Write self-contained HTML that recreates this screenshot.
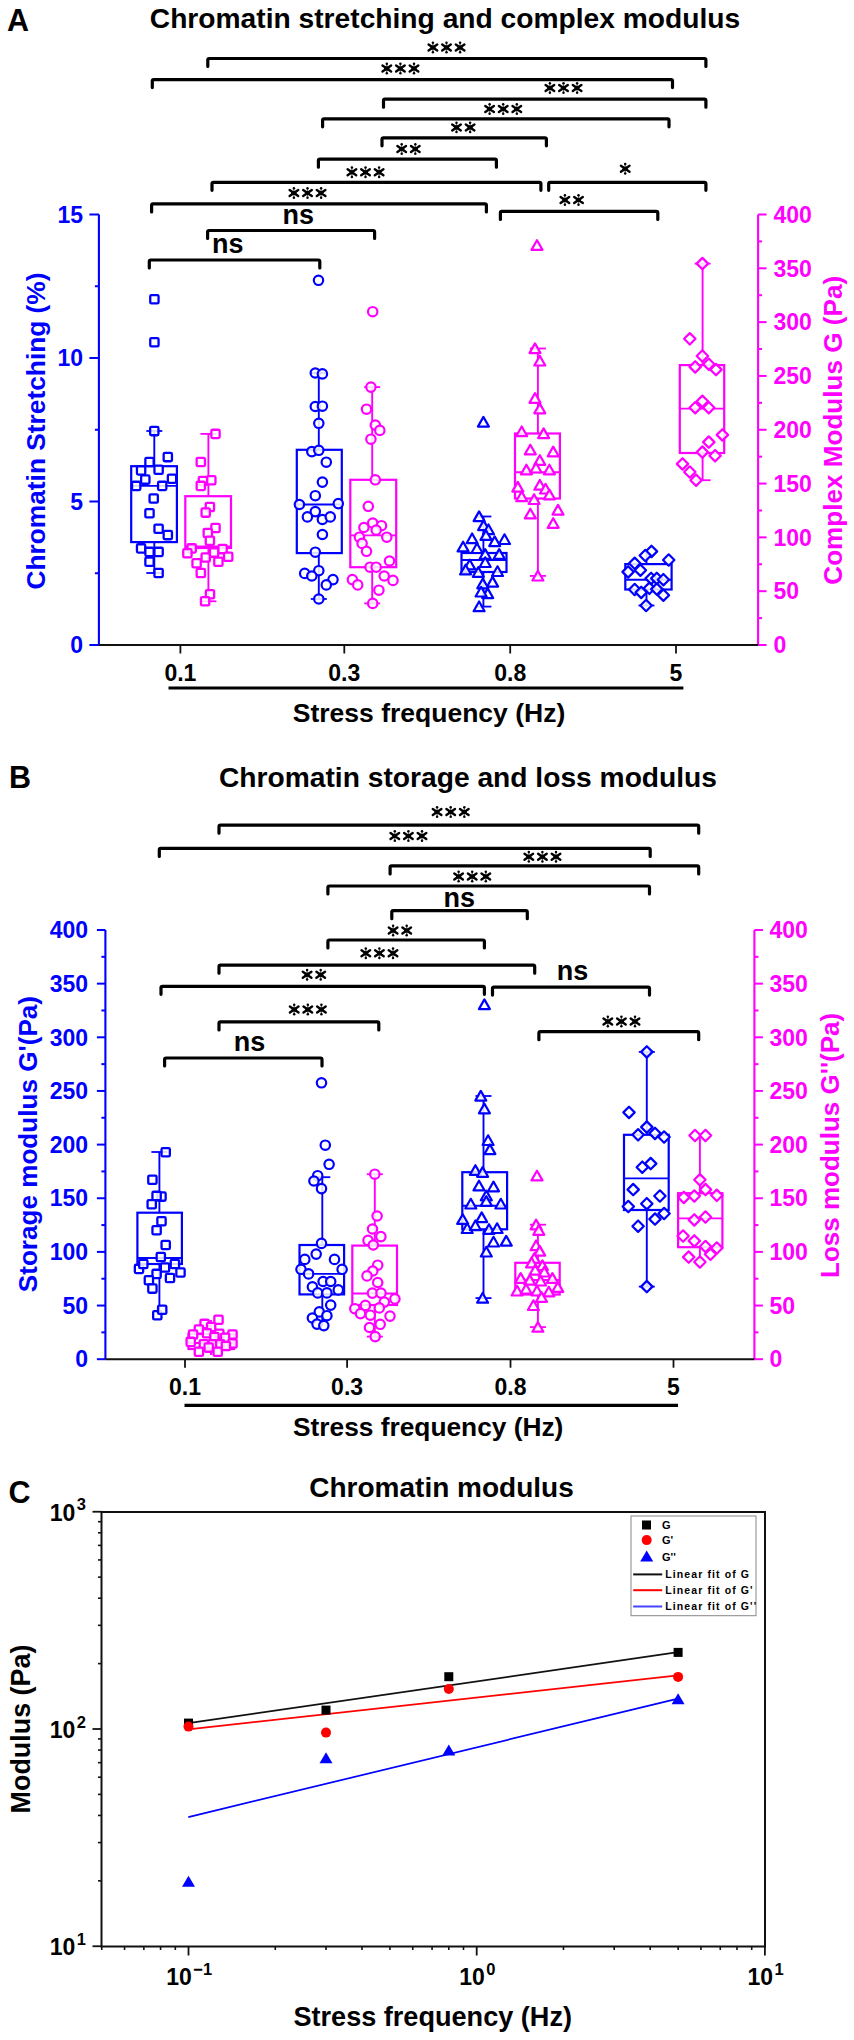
<!DOCTYPE html><html><head><meta charset="utf-8"><style>html,body{margin:0;padding:0;background:#fff;}svg{display:block;}</style></head><body><svg width="854" height="2040" viewBox="0 0 854 2040" font-family="'Liberation Sans', sans-serif" font-weight="bold">
<defs><g id="ast"><path d="M-4.3,-3 L4.3,3 M4.3,-3 L-4.3,3" stroke="#000" stroke-width="2.4" stroke-linecap="round"/><path d="M0,-4.6 L0,4.6" stroke="#000" stroke-opacity="0.6" stroke-width="1.3"/><circle cx="0" cy="-4.7" r="1.25" fill="#000"/><circle cx="0" cy="4.7" r="1.25" fill="#000"/><rect x="-2.6" y="-2" width="5.2" height="4" fill="#000"/></g></defs>
<rect width="854" height="2040" fill="#fff"/>
<text x="7" y="31" font-size="30.5" fill="#000" text-anchor="start" >A</text>
<text x="445" y="27.6" font-size="28.2" fill="#000" text-anchor="middle" >Chromatin stretching and complex modulus</text>
<path d="M207.8,66.5 L207.8,60.0 Q207.8,58.5 209.3,58.5 L704.4,58.5 Q705.9,58.5 705.9,60.0 L705.9,66.5" fill="none" stroke="#000" stroke-width="3.2" stroke-linecap="round" stroke-linejoin="round"/>
<use href="#ast" x="432.9" y="47.5"/>
<use href="#ast" x="446.5" y="47.5"/>
<use href="#ast" x="460.1" y="47.5"/>
<path d="M152.3,87.6 L152.3,81.1 Q152.3,79.6 153.8,79.6 L671.0,79.6 Q672.5,79.6 672.5,81.1 L672.5,87.6" fill="none" stroke="#000" stroke-width="3.2" stroke-linecap="round" stroke-linejoin="round"/>
<use href="#ast" x="386.8" y="68.5"/>
<use href="#ast" x="400.4" y="68.5"/>
<use href="#ast" x="414.0" y="68.5"/>
<path d="M383.5,107.2 L383.5,100.7 Q383.5,99.2 385.0,99.2 L704.4,99.2 Q705.9,99.2 705.9,100.7 L705.9,107.2" fill="none" stroke="#000" stroke-width="3.2" stroke-linecap="round" stroke-linejoin="round"/>
<use href="#ast" x="549.9" y="88"/>
<use href="#ast" x="563.5" y="88"/>
<use href="#ast" x="577.1" y="88"/>
<path d="M322.6,126.8 L322.6,120.3 Q322.6,118.8 324.1,118.8 L667.5,118.8 Q669,118.8 669,120.3 L669,126.8" fill="none" stroke="#000" stroke-width="3.2" stroke-linecap="round" stroke-linejoin="round"/>
<use href="#ast" x="489.6" y="109"/>
<use href="#ast" x="503.2" y="109"/>
<use href="#ast" x="516.8" y="109"/>
<path d="M382,145.8 L382,139.3 Q382,137.8 383.5,137.8 L544.9,137.8 Q546.4,137.8 546.4,139.3 L546.4,145.8" fill="none" stroke="#000" stroke-width="3.2" stroke-linecap="round" stroke-linejoin="round"/>
<use href="#ast" x="456.5" y="127.4"/>
<use href="#ast" x="470.1" y="127.4"/>
<path d="M318.4,167.2 L318.4,160.7 Q318.4,159.2 319.9,159.2 L494.9,159.2 Q496.4,159.2 496.4,160.7 L496.4,167.2" fill="none" stroke="#000" stroke-width="3.2" stroke-linecap="round" stroke-linejoin="round"/>
<use href="#ast" x="401.7" y="149"/>
<use href="#ast" x="415.3" y="149"/>
<path d="M212,190.3 L212,183.8 Q212,182.3 213.5,182.3 L539.4,182.3 Q540.9,182.3 540.9,183.8 L540.9,190.3" fill="none" stroke="#000" stroke-width="3.2" stroke-linecap="round" stroke-linejoin="round"/>
<use href="#ast" x="351.9" y="172.3"/>
<use href="#ast" x="365.5" y="172.3"/>
<use href="#ast" x="379.1" y="172.3"/>
<path d="M548.7,190.3 L548.7,183.8 Q548.7,182.3 550.2,182.3 L704.4,182.3 Q705.9,182.3 705.9,183.8 L705.9,190.3" fill="none" stroke="#000" stroke-width="3.2" stroke-linecap="round" stroke-linejoin="round"/>
<use href="#ast" x="625.2" y="168.8"/>
<path d="M151.6,211.9 L151.6,205.4 Q151.6,203.9 153.1,203.9 L484.9,203.9 Q486.4,203.9 486.4,205.4 L486.4,211.9" fill="none" stroke="#000" stroke-width="3.2" stroke-linecap="round" stroke-linejoin="round"/>
<use href="#ast" x="293.9" y="193"/>
<use href="#ast" x="307.5" y="193"/>
<use href="#ast" x="321.1" y="193"/>
<path d="M500.4,219.4 L500.4,212.9 Q500.4,211.4 501.9,211.4 L656.3,211.4 Q657.8,211.4 657.8,212.9 L657.8,219.4" fill="none" stroke="#000" stroke-width="3.2" stroke-linecap="round" stroke-linejoin="round"/>
<use href="#ast" x="564.9" y="200"/>
<use href="#ast" x="578.5" y="200"/>
<path d="M207.6,238.5 L207.6,232.0 Q207.6,230.5 209.1,230.5 L373.1,230.5 Q374.6,230.5 374.6,232.0 L374.6,238.5" fill="none" stroke="#000" stroke-width="3.2" stroke-linecap="round" stroke-linejoin="round"/>
<text x="298.2" y="224" font-size="27" fill="#000" text-anchor="middle" >ns</text>
<path d="M149.3,268 L149.3,261.5 Q149.3,260 150.8,260 L318.3,260 Q319.8,260 319.8,261.5 L319.8,268" fill="none" stroke="#000" stroke-width="3.2" stroke-linecap="round" stroke-linejoin="round"/>
<text x="227.8" y="253.3" font-size="27" fill="#000" text-anchor="middle" >ns</text>
<line x1="98.9" y1="214.5" x2="98.9" y2="645" stroke="#0000ff" stroke-width="2.1" />
<line x1="89.4" y1="214.5" x2="98.9" y2="214.5" stroke="#0000ff" stroke-width="2" />
<text x="83" y="222.7" font-size="23" fill="#0000ff" text-anchor="end" >15</text>
<line x1="94.9" y1="286.25" x2="98.9" y2="286.25" stroke="#0000ff" stroke-width="2" />
<line x1="89.4" y1="358.0" x2="98.9" y2="358.0" stroke="#0000ff" stroke-width="2" />
<text x="83" y="366.2" font-size="23" fill="#0000ff" text-anchor="end" >10</text>
<line x1="94.9" y1="429.75" x2="98.9" y2="429.75" stroke="#0000ff" stroke-width="2" />
<line x1="89.4" y1="501.5" x2="98.9" y2="501.5" stroke="#0000ff" stroke-width="2" />
<text x="83" y="509.7" font-size="23" fill="#0000ff" text-anchor="end" >5</text>
<line x1="94.9" y1="573.25" x2="98.9" y2="573.25" stroke="#0000ff" stroke-width="2" />
<line x1="89.4" y1="645.0" x2="98.9" y2="645.0" stroke="#0000ff" stroke-width="2" />
<text x="83" y="653.2" font-size="23" fill="#0000ff" text-anchor="end" >0</text>
<line x1="758.1" y1="214.5" x2="758.1" y2="645" stroke="#ff00ff" stroke-width="2.1" />
<line x1="758.1" y1="645.0" x2="766.6" y2="645.0" stroke="#ff00ff" stroke-width="2" />
<text x="773.5" y="653.2" font-size="23" fill="#ff00ff" text-anchor="start" >0</text>
<line x1="758.1" y1="618.09375" x2="762.1" y2="618.09375" stroke="#ff00ff" stroke-width="2" />
<line x1="758.1" y1="591.1875" x2="766.6" y2="591.1875" stroke="#ff00ff" stroke-width="2" />
<text x="773.5" y="599.3875" font-size="23" fill="#ff00ff" text-anchor="start" >50</text>
<line x1="758.1" y1="564.28125" x2="762.1" y2="564.28125" stroke="#ff00ff" stroke-width="2" />
<line x1="758.1" y1="537.375" x2="766.6" y2="537.375" stroke="#ff00ff" stroke-width="2" />
<text x="773.5" y="545.575" font-size="23" fill="#ff00ff" text-anchor="start" >100</text>
<line x1="758.1" y1="510.46875" x2="762.1" y2="510.46875" stroke="#ff00ff" stroke-width="2" />
<line x1="758.1" y1="483.5625" x2="766.6" y2="483.5625" stroke="#ff00ff" stroke-width="2" />
<text x="773.5" y="491.7625" font-size="23" fill="#ff00ff" text-anchor="start" >150</text>
<line x1="758.1" y1="456.65625" x2="762.1" y2="456.65625" stroke="#ff00ff" stroke-width="2" />
<line x1="758.1" y1="429.75" x2="766.6" y2="429.75" stroke="#ff00ff" stroke-width="2" />
<text x="773.5" y="437.95" font-size="23" fill="#ff00ff" text-anchor="start" >200</text>
<line x1="758.1" y1="402.84375" x2="762.1" y2="402.84375" stroke="#ff00ff" stroke-width="2" />
<line x1="758.1" y1="375.9375" x2="766.6" y2="375.9375" stroke="#ff00ff" stroke-width="2" />
<text x="773.5" y="384.1375" font-size="23" fill="#ff00ff" text-anchor="start" >250</text>
<line x1="758.1" y1="349.03125" x2="762.1" y2="349.03125" stroke="#ff00ff" stroke-width="2" />
<line x1="758.1" y1="322.125" x2="766.6" y2="322.125" stroke="#ff00ff" stroke-width="2" />
<text x="773.5" y="330.325" font-size="23" fill="#ff00ff" text-anchor="start" >300</text>
<line x1="758.1" y1="295.21875" x2="762.1" y2="295.21875" stroke="#ff00ff" stroke-width="2" />
<line x1="758.1" y1="268.3125" x2="766.6" y2="268.3125" stroke="#ff00ff" stroke-width="2" />
<text x="773.5" y="276.5125" font-size="23" fill="#ff00ff" text-anchor="start" >350</text>
<line x1="758.1" y1="241.40625" x2="762.1" y2="241.40625" stroke="#ff00ff" stroke-width="2" />
<line x1="758.1" y1="214.5" x2="766.6" y2="214.5" stroke="#ff00ff" stroke-width="2" />
<text x="773.5" y="222.7" font-size="23" fill="#ff00ff" text-anchor="start" >400</text>
<line x1="98.9" y1="645" x2="758.1" y2="645" stroke="#111" stroke-width="2" />
<line x1="180.4" y1="645" x2="180.4" y2="653.5" stroke="#111" stroke-width="1.8" />
<text x="180.4" y="680.5" font-size="23" fill="#000" text-anchor="middle" >0.1</text>
<line x1="344.3" y1="645" x2="344.3" y2="653.5" stroke="#111" stroke-width="1.8" />
<text x="344.3" y="680.5" font-size="23" fill="#000" text-anchor="middle" >0.3</text>
<line x1="510.2" y1="645" x2="510.2" y2="653.5" stroke="#111" stroke-width="1.8" />
<text x="510.2" y="680.5" font-size="23" fill="#000" text-anchor="middle" >0.8</text>
<line x1="676" y1="645" x2="676" y2="653.5" stroke="#111" stroke-width="1.8" />
<text x="676" y="680.5" font-size="23" fill="#000" text-anchor="middle" >5</text>
<line x1="168.5" y1="688" x2="683.4" y2="688" stroke="#000" stroke-width="3.2" />
<text x="429" y="722" font-size="26.5" fill="#000" text-anchor="middle" >Stress frequency (Hz)</text>
<text transform="translate(44.7,431) rotate(-90)" font-size="26.3" fill="#0000ff" text-anchor="middle">Chromatin Stretching (%)</text>
<text transform="translate(842.2,430.3) rotate(-90)" font-size="26.1" fill="#ff00ff" text-anchor="middle">Complex Modulus G (Pa)</text>
<line x1="154.3" y1="431" x2="154.3" y2="466.2" stroke="#0000ff" stroke-width="1.9" />
<line x1="154.3" y1="542.1" x2="154.3" y2="573" stroke="#0000ff" stroke-width="1.9" />
<line x1="146.3" y1="431" x2="162.3" y2="431" stroke="#0000ff" stroke-width="1.8" />
<line x1="146.3" y1="573" x2="162.3" y2="573" stroke="#0000ff" stroke-width="1.8" />
<rect x="131.2" y="466.2" width="45.70000000000002" height="75.90000000000003" fill="none" stroke="#0000ff" stroke-width="2.2"/>
<line x1="131.2" y1="485.9" x2="176.9" y2="485.9" stroke="#0000ff" stroke-width="1.9" />
<rect x="150.25" y="295.15" width="8.3" height="8.3" rx="1.2" fill="#fff" fill-opacity="0.85" stroke="#0000ff" stroke-width="2.3"/>
<rect x="150.25" y="338.05" width="8.3" height="8.3" rx="1.2" fill="#fff" fill-opacity="0.85" stroke="#0000ff" stroke-width="2.3"/>
<rect x="150.15" y="426.95" width="8.3" height="8.3" rx="1.2" fill="#fff" fill-opacity="0.85" stroke="#0000ff" stroke-width="2.3"/>
<rect x="163.65" y="452.95" width="8.3" height="8.3" rx="1.2" fill="#fff" fill-opacity="0.85" stroke="#0000ff" stroke-width="2.3"/>
<rect x="145.35" y="457.85" width="8.3" height="8.3" rx="1.2" fill="#fff" fill-opacity="0.85" stroke="#0000ff" stroke-width="2.3"/>
<rect x="136.95" y="466.25" width="8.3" height="8.3" rx="1.2" fill="#fff" fill-opacity="0.85" stroke="#0000ff" stroke-width="2.3"/>
<rect x="154.45" y="465.55" width="8.3" height="8.3" rx="1.2" fill="#fff" fill-opacity="0.85" stroke="#0000ff" stroke-width="2.3"/>
<rect x="141.15" y="475.45" width="8.3" height="8.3" rx="1.2" fill="#fff" fill-opacity="0.85" stroke="#0000ff" stroke-width="2.3"/>
<rect x="167.85" y="474.65" width="8.3" height="8.3" rx="1.2" fill="#fff" fill-opacity="0.85" stroke="#0000ff" stroke-width="2.3"/>
<rect x="132.05" y="481.75" width="8.3" height="8.3" rx="1.2" fill="#fff" fill-opacity="0.85" stroke="#0000ff" stroke-width="2.3"/>
<rect x="158.05" y="481.75" width="8.3" height="8.3" rx="1.2" fill="#fff" fill-opacity="0.85" stroke="#0000ff" stroke-width="2.3"/>
<rect x="149.55" y="494.35" width="8.3" height="8.3" rx="1.2" fill="#fff" fill-opacity="0.85" stroke="#0000ff" stroke-width="2.3"/>
<rect x="145.35" y="509.15" width="8.3" height="8.3" rx="1.2" fill="#fff" fill-opacity="0.85" stroke="#0000ff" stroke-width="2.3"/>
<rect x="154.45" y="524.55" width="8.3" height="8.3" rx="1.2" fill="#fff" fill-opacity="0.85" stroke="#0000ff" stroke-width="2.3"/>
<rect x="163.65" y="530.95" width="8.3" height="8.3" rx="1.2" fill="#fff" fill-opacity="0.85" stroke="#0000ff" stroke-width="2.3"/>
<rect x="136.95" y="544.25" width="8.3" height="8.3" rx="1.2" fill="#fff" fill-opacity="0.85" stroke="#0000ff" stroke-width="2.3"/>
<rect x="145.35" y="547.75" width="8.3" height="8.3" rx="1.2" fill="#fff" fill-opacity="0.85" stroke="#0000ff" stroke-width="2.3"/>
<rect x="154.45" y="547.75" width="8.3" height="8.3" rx="1.2" fill="#fff" fill-opacity="0.85" stroke="#0000ff" stroke-width="2.3"/>
<rect x="145.35" y="557.55" width="8.3" height="8.3" rx="1.2" fill="#fff" fill-opacity="0.85" stroke="#0000ff" stroke-width="2.3"/>
<rect x="154.45" y="568.85" width="8.3" height="8.3" rx="1.2" fill="#fff" fill-opacity="0.85" stroke="#0000ff" stroke-width="2.3"/>
<line x1="208.4" y1="433.9" x2="208.4" y2="496.2" stroke="#ff00ff" stroke-width="1.9" />
<line x1="208.4" y1="548" x2="208.4" y2="601.3" stroke="#ff00ff" stroke-width="1.9" />
<line x1="200.4" y1="433.9" x2="216.4" y2="433.9" stroke="#ff00ff" stroke-width="1.8" />
<line x1="200.4" y1="601.3" x2="216.4" y2="601.3" stroke="#ff00ff" stroke-width="1.8" />
<rect x="185.3" y="496.2" width="45.69999999999999" height="51.80000000000001" fill="none" stroke="#ff00ff" stroke-width="2.2"/>
<line x1="185.3" y1="546.5" x2="231" y2="546.5" stroke="#ff00ff" stroke-width="1.9" />
<rect x="211.35" y="429.75" width="8.3" height="8.3" rx="1.2" fill="#fff" fill-opacity="0.85" stroke="#ff00ff" stroke-width="2.3"/>
<rect x="196.65" y="457.85" width="8.3" height="8.3" rx="1.2" fill="#fff" fill-opacity="0.85" stroke="#ff00ff" stroke-width="2.3"/>
<rect x="198.75" y="476.85" width="8.3" height="8.3" rx="1.2" fill="#fff" fill-opacity="0.85" stroke="#ff00ff" stroke-width="2.3"/>
<rect x="207.15" y="476.15" width="8.3" height="8.3" rx="1.2" fill="#fff" fill-opacity="0.85" stroke="#ff00ff" stroke-width="2.3"/>
<rect x="196.65" y="481.75" width="8.3" height="8.3" rx="1.2" fill="#fff" fill-opacity="0.85" stroke="#ff00ff" stroke-width="2.3"/>
<rect x="205.75" y="502.85" width="8.3" height="8.3" rx="1.2" fill="#fff" fill-opacity="0.85" stroke="#ff00ff" stroke-width="2.3"/>
<rect x="201.55" y="508.45" width="8.3" height="8.3" rx="1.2" fill="#fff" fill-opacity="0.85" stroke="#ff00ff" stroke-width="2.3"/>
<rect x="211.35" y="523.85" width="8.3" height="8.3" rx="1.2" fill="#fff" fill-opacity="0.85" stroke="#ff00ff" stroke-width="2.3"/>
<rect x="203.65" y="528.85" width="8.3" height="8.3" rx="1.2" fill="#fff" fill-opacity="0.85" stroke="#ff00ff" stroke-width="2.3"/>
<rect x="205.75" y="536.55" width="8.3" height="8.3" rx="1.2" fill="#fff" fill-opacity="0.85" stroke="#ff00ff" stroke-width="2.3"/>
<rect x="187.55" y="544.25" width="8.3" height="8.3" rx="1.2" fill="#fff" fill-opacity="0.85" stroke="#ff00ff" stroke-width="2.3"/>
<rect x="183.25" y="549.15" width="8.3" height="8.3" rx="1.2" fill="#fff" fill-opacity="0.85" stroke="#ff00ff" stroke-width="2.3"/>
<rect x="201.55" y="553.35" width="8.3" height="8.3" rx="1.2" fill="#fff" fill-opacity="0.85" stroke="#ff00ff" stroke-width="2.3"/>
<rect x="209.95" y="548.45" width="8.3" height="8.3" rx="1.2" fill="#fff" fill-opacity="0.85" stroke="#ff00ff" stroke-width="2.3"/>
<rect x="218.45" y="544.95" width="8.3" height="8.3" rx="1.2" fill="#fff" fill-opacity="0.85" stroke="#ff00ff" stroke-width="2.3"/>
<rect x="224.05" y="552.65" width="8.3" height="8.3" rx="1.2" fill="#fff" fill-opacity="0.85" stroke="#ff00ff" stroke-width="2.3"/>
<rect x="192.45" y="559.05" width="8.3" height="8.3" rx="1.2" fill="#fff" fill-opacity="0.85" stroke="#ff00ff" stroke-width="2.3"/>
<rect x="214.25" y="557.55" width="8.3" height="8.3" rx="1.2" fill="#fff" fill-opacity="0.85" stroke="#ff00ff" stroke-width="2.3"/>
<rect x="196.65" y="568.85" width="8.3" height="8.3" rx="1.2" fill="#fff" fill-opacity="0.85" stroke="#ff00ff" stroke-width="2.3"/>
<rect x="205.85" y="590.05" width="8.3" height="8.3" rx="1.2" fill="#fff" fill-opacity="0.85" stroke="#ff00ff" stroke-width="2.3"/>
<rect x="200.95" y="597.15" width="8.3" height="8.3" rx="1.2" fill="#fff" fill-opacity="0.85" stroke="#ff00ff" stroke-width="2.3"/>
<line x1="318.8" y1="373" x2="318.8" y2="449.8" stroke="#0000ff" stroke-width="1.9" />
<line x1="318.8" y1="553.1" x2="318.8" y2="599" stroke="#0000ff" stroke-width="1.9" />
<line x1="310.8" y1="373" x2="326.8" y2="373" stroke="#0000ff" stroke-width="1.8" />
<line x1="310.8" y1="599" x2="326.8" y2="599" stroke="#0000ff" stroke-width="1.8" />
<rect x="296.8" y="449.8" width="45.0" height="103.30000000000001" fill="none" stroke="#0000ff" stroke-width="2.2"/>
<line x1="296.8" y1="504.5" x2="341.8" y2="504.5" stroke="#0000ff" stroke-width="1.9" />
<circle cx="318.5" cy="280.3" r="4.7" fill="#fff" fill-opacity="0.85" stroke="#0000ff" stroke-width="2.2"/>
<circle cx="315.3" cy="373.0" r="4.7" fill="#fff" fill-opacity="0.85" stroke="#0000ff" stroke-width="2.2"/>
<circle cx="322.4" cy="373.9" r="4.7" fill="#fff" fill-opacity="0.85" stroke="#0000ff" stroke-width="2.2"/>
<circle cx="315.3" cy="406.5" r="4.7" fill="#fff" fill-opacity="0.85" stroke="#0000ff" stroke-width="2.2"/>
<circle cx="322.4" cy="406.2" r="4.7" fill="#fff" fill-opacity="0.85" stroke="#0000ff" stroke-width="2.2"/>
<circle cx="318.8" cy="423.3" r="4.7" fill="#fff" fill-opacity="0.85" stroke="#0000ff" stroke-width="2.2"/>
<circle cx="311.8" cy="451.6" r="4.7" fill="#fff" fill-opacity="0.85" stroke="#0000ff" stroke-width="2.2"/>
<circle cx="318.8" cy="450.3" r="4.7" fill="#fff" fill-opacity="0.85" stroke="#0000ff" stroke-width="2.2"/>
<circle cx="326.3" cy="462.2" r="4.7" fill="#fff" fill-opacity="0.85" stroke="#0000ff" stroke-width="2.2"/>
<circle cx="322.4" cy="482.1" r="4.7" fill="#fff" fill-opacity="0.85" stroke="#0000ff" stroke-width="2.2"/>
<circle cx="315.3" cy="495.7" r="4.7" fill="#fff" fill-opacity="0.85" stroke="#0000ff" stroke-width="2.2"/>
<circle cx="299.4" cy="504.5" r="4.7" fill="#fff" fill-opacity="0.85" stroke="#0000ff" stroke-width="2.2"/>
<circle cx="338.3" cy="503.6" r="4.7" fill="#fff" fill-opacity="0.85" stroke="#0000ff" stroke-width="2.2"/>
<circle cx="315.3" cy="511.6" r="4.7" fill="#fff" fill-opacity="0.85" stroke="#0000ff" stroke-width="2.2"/>
<circle cx="307.4" cy="516.9" r="4.7" fill="#fff" fill-opacity="0.85" stroke="#0000ff" stroke-width="2.2"/>
<circle cx="322.4" cy="519.5" r="4.7" fill="#fff" fill-opacity="0.85" stroke="#0000ff" stroke-width="2.2"/>
<circle cx="330.3" cy="516.9" r="4.7" fill="#fff" fill-opacity="0.85" stroke="#0000ff" stroke-width="2.2"/>
<circle cx="322.4" cy="534.5" r="4.7" fill="#fff" fill-opacity="0.85" stroke="#0000ff" stroke-width="2.2"/>
<circle cx="315.3" cy="552.2" r="4.7" fill="#fff" fill-opacity="0.85" stroke="#0000ff" stroke-width="2.2"/>
<circle cx="318.8" cy="570.7" r="4.7" fill="#fff" fill-opacity="0.85" stroke="#0000ff" stroke-width="2.2"/>
<circle cx="304.7" cy="573.4" r="4.7" fill="#fff" fill-opacity="0.85" stroke="#0000ff" stroke-width="2.2"/>
<circle cx="311.8" cy="576.0" r="4.7" fill="#fff" fill-opacity="0.85" stroke="#0000ff" stroke-width="2.2"/>
<circle cx="333.0" cy="579.6" r="4.7" fill="#fff" fill-opacity="0.85" stroke="#0000ff" stroke-width="2.2"/>
<circle cx="326.3" cy="584.9" r="4.7" fill="#fff" fill-opacity="0.85" stroke="#0000ff" stroke-width="2.2"/>
<circle cx="318.8" cy="599.0" r="4.7" fill="#fff" fill-opacity="0.85" stroke="#0000ff" stroke-width="2.2"/>
<line x1="372.2" y1="387.1" x2="372.2" y2="479.8" stroke="#ff00ff" stroke-width="1.9" />
<line x1="372.2" y1="567.2" x2="372.2" y2="603.4" stroke="#ff00ff" stroke-width="1.9" />
<line x1="364.2" y1="387.1" x2="380.2" y2="387.1" stroke="#ff00ff" stroke-width="1.8" />
<line x1="364.2" y1="603.4" x2="380.2" y2="603.4" stroke="#ff00ff" stroke-width="1.8" />
<rect x="350.3" y="479.8" width="45.89999999999998" height="87.40000000000003" fill="none" stroke="#ff00ff" stroke-width="2.2"/>
<line x1="350.3" y1="535.4" x2="396.2" y2="535.4" stroke="#ff00ff" stroke-width="1.9" />
<circle cx="372.7" cy="311.7" r="4.7" fill="#fff" fill-opacity="0.85" stroke="#ff00ff" stroke-width="2.2"/>
<circle cx="370.9" cy="387.1" r="4.7" fill="#fff" fill-opacity="0.85" stroke="#ff00ff" stroke-width="2.2"/>
<circle cx="366.5" cy="409.2" r="4.7" fill="#fff" fill-opacity="0.85" stroke="#ff00ff" stroke-width="2.2"/>
<circle cx="375.3" cy="425.1" r="4.7" fill="#fff" fill-opacity="0.85" stroke="#ff00ff" stroke-width="2.2"/>
<circle cx="379.8" cy="430.4" r="4.7" fill="#fff" fill-opacity="0.85" stroke="#ff00ff" stroke-width="2.2"/>
<circle cx="370.9" cy="439.2" r="4.7" fill="#fff" fill-opacity="0.85" stroke="#ff00ff" stroke-width="2.2"/>
<circle cx="375.3" cy="479.8" r="4.7" fill="#fff" fill-opacity="0.85" stroke="#ff00ff" stroke-width="2.2"/>
<circle cx="368.3" cy="506.3" r="4.7" fill="#fff" fill-opacity="0.85" stroke="#ff00ff" stroke-width="2.2"/>
<circle cx="372.7" cy="523.0" r="4.7" fill="#fff" fill-opacity="0.85" stroke="#ff00ff" stroke-width="2.2"/>
<circle cx="363.9" cy="527.5" r="4.7" fill="#fff" fill-opacity="0.85" stroke="#ff00ff" stroke-width="2.2"/>
<circle cx="381.5" cy="525.7" r="4.7" fill="#fff" fill-opacity="0.85" stroke="#ff00ff" stroke-width="2.2"/>
<circle cx="376.2" cy="530.1" r="4.7" fill="#fff" fill-opacity="0.85" stroke="#ff00ff" stroke-width="2.2"/>
<circle cx="359.4" cy="537.2" r="4.7" fill="#fff" fill-opacity="0.85" stroke="#ff00ff" stroke-width="2.2"/>
<circle cx="386.8" cy="537.2" r="4.7" fill="#fff" fill-opacity="0.85" stroke="#ff00ff" stroke-width="2.2"/>
<circle cx="362.1" cy="543.4" r="4.7" fill="#fff" fill-opacity="0.85" stroke="#ff00ff" stroke-width="2.2"/>
<circle cx="366.5" cy="551.3" r="4.7" fill="#fff" fill-opacity="0.85" stroke="#ff00ff" stroke-width="2.2"/>
<circle cx="370.0" cy="567.2" r="4.7" fill="#fff" fill-opacity="0.85" stroke="#ff00ff" stroke-width="2.2"/>
<circle cx="376.2" cy="567.2" r="4.7" fill="#fff" fill-opacity="0.85" stroke="#ff00ff" stroke-width="2.2"/>
<circle cx="389.5" cy="561.0" r="4.7" fill="#fff" fill-opacity="0.85" stroke="#ff00ff" stroke-width="2.2"/>
<circle cx="352.4" cy="579.6" r="4.7" fill="#fff" fill-opacity="0.85" stroke="#ff00ff" stroke-width="2.2"/>
<circle cx="357.7" cy="584.9" r="4.7" fill="#fff" fill-opacity="0.85" stroke="#ff00ff" stroke-width="2.2"/>
<circle cx="384.2" cy="576.0" r="4.7" fill="#fff" fill-opacity="0.85" stroke="#ff00ff" stroke-width="2.2"/>
<circle cx="393.0" cy="580.4" r="4.7" fill="#fff" fill-opacity="0.85" stroke="#ff00ff" stroke-width="2.2"/>
<circle cx="378.9" cy="590.2" r="4.7" fill="#fff" fill-opacity="0.85" stroke="#ff00ff" stroke-width="2.2"/>
<circle cx="372.7" cy="603.4" r="4.7" fill="#fff" fill-opacity="0.85" stroke="#ff00ff" stroke-width="2.2"/>
<line x1="483.4" y1="516.5" x2="483.4" y2="553" stroke="#0000ff" stroke-width="1.9" />
<line x1="483.4" y1="572" x2="483.4" y2="606.6" stroke="#0000ff" stroke-width="1.9" />
<line x1="475.4" y1="516.5" x2="491.4" y2="516.5" stroke="#0000ff" stroke-width="1.8" />
<line x1="475.4" y1="606.6" x2="491.4" y2="606.6" stroke="#0000ff" stroke-width="1.8" />
<rect x="461.5" y="553" width="45.0" height="19" fill="none" stroke="#0000ff" stroke-width="2.2"/>
<line x1="461.5" y1="560" x2="506.5" y2="560" stroke="#0000ff" stroke-width="1.9" />
<path d="M483.4,416.9 L488.9,426.6 L477.9,426.6 Z" fill="#fff" fill-opacity="0.85" stroke="#0000ff" stroke-width="2.2" stroke-linejoin="round"/>
<path d="M479.1,511.4 L484.6,521.1 L473.6,521.1 Z" fill="#fff" fill-opacity="0.85" stroke="#0000ff" stroke-width="2.2" stroke-linejoin="round"/>
<path d="M483.6,520.4 L489.1,530.1 L478.1,530.1 Z" fill="#fff" fill-opacity="0.85" stroke="#0000ff" stroke-width="2.2" stroke-linejoin="round"/>
<path d="M488.5,524.5 L494.0,534.2 L483.0,534.2 Z" fill="#fff" fill-opacity="0.85" stroke="#0000ff" stroke-width="2.2" stroke-linejoin="round"/>
<path d="M486.0,530.2 L491.5,539.9 L480.5,539.9 Z" fill="#fff" fill-opacity="0.85" stroke="#0000ff" stroke-width="2.2" stroke-linejoin="round"/>
<path d="M494.7,536.4 L500.2,546.1 L489.2,546.1 Z" fill="#fff" fill-opacity="0.85" stroke="#0000ff" stroke-width="2.2" stroke-linejoin="round"/>
<path d="M504.5,534.3 L510.0,544.0 L499.0,544.0 Z" fill="#fff" fill-opacity="0.85" stroke="#0000ff" stroke-width="2.2" stroke-linejoin="round"/>
<path d="M472.1,533.5 L477.6,543.2 L466.6,543.2 Z" fill="#fff" fill-opacity="0.85" stroke="#0000ff" stroke-width="2.2" stroke-linejoin="round"/>
<path d="M463.1,541.7 L468.6,551.4 L457.6,551.4 Z" fill="#fff" fill-opacity="0.85" stroke="#0000ff" stroke-width="2.2" stroke-linejoin="round"/>
<path d="M477.0,543.3 L482.5,553.0 L471.5,553.0 Z" fill="#fff" fill-opacity="0.85" stroke="#0000ff" stroke-width="2.2" stroke-linejoin="round"/>
<path d="M485.2,549.1 L490.7,558.8 L479.7,558.8 Z" fill="#fff" fill-opacity="0.85" stroke="#0000ff" stroke-width="2.2" stroke-linejoin="round"/>
<path d="M499.2,549.1 L504.7,558.8 L493.7,558.8 Z" fill="#fff" fill-opacity="0.85" stroke="#0000ff" stroke-width="2.2" stroke-linejoin="round"/>
<path d="M469.7,559.7 L475.2,569.4 L464.2,569.4 Z" fill="#fff" fill-opacity="0.85" stroke="#0000ff" stroke-width="2.2" stroke-linejoin="round"/>
<path d="M485.2,557.3 L490.7,567.0 L479.7,567.0 Z" fill="#fff" fill-opacity="0.85" stroke="#0000ff" stroke-width="2.2" stroke-linejoin="round"/>
<path d="M478.3,567.1 L483.8,576.8 L472.8,576.8 Z" fill="#fff" fill-opacity="0.85" stroke="#0000ff" stroke-width="2.2" stroke-linejoin="round"/>
<path d="M497.5,566.3 L503.0,576.0 L492.0,576.0 Z" fill="#fff" fill-opacity="0.85" stroke="#0000ff" stroke-width="2.2" stroke-linejoin="round"/>
<path d="M465.6,564.7 L471.1,574.4 L460.1,574.4 Z" fill="#fff" fill-opacity="0.85" stroke="#0000ff" stroke-width="2.2" stroke-linejoin="round"/>
<path d="M492.6,576.9 L498.1,586.6 L487.1,586.6 Z" fill="#fff" fill-opacity="0.85" stroke="#0000ff" stroke-width="2.2" stroke-linejoin="round"/>
<path d="M482.8,578.6 L488.3,588.3 L477.3,588.3 Z" fill="#fff" fill-opacity="0.85" stroke="#0000ff" stroke-width="2.2" stroke-linejoin="round"/>
<path d="M487.7,588.4 L493.2,598.1 L482.2,598.1 Z" fill="#fff" fill-opacity="0.85" stroke="#0000ff" stroke-width="2.2" stroke-linejoin="round"/>
<path d="M481.1,586.8 L486.6,596.5 L475.6,596.5 Z" fill="#fff" fill-opacity="0.85" stroke="#0000ff" stroke-width="2.2" stroke-linejoin="round"/>
<path d="M479.1,601.5 L484.6,611.2 L473.6,611.2 Z" fill="#fff" fill-opacity="0.85" stroke="#0000ff" stroke-width="2.2" stroke-linejoin="round"/>
<line x1="537.9" y1="348.5" x2="537.9" y2="433.5" stroke="#ff00ff" stroke-width="1.9" />
<line x1="537.9" y1="498.5" x2="537.9" y2="575.9" stroke="#ff00ff" stroke-width="1.9" />
<line x1="529.9" y1="348.5" x2="545.9" y2="348.5" stroke="#ff00ff" stroke-width="1.8" />
<line x1="529.9" y1="575.9" x2="545.9" y2="575.9" stroke="#ff00ff" stroke-width="1.8" />
<rect x="515" y="433.5" width="44.89999999999998" height="65.0" fill="none" stroke="#ff00ff" stroke-width="2.2"/>
<line x1="515" y1="472.3" x2="559.9" y2="472.3" stroke="#ff00ff" stroke-width="1.9" />
<path d="M537.0,240.2 L542.5,249.9 L531.5,249.9 Z" fill="#fff" fill-opacity="0.85" stroke="#ff00ff" stroke-width="2.2" stroke-linejoin="round"/>
<path d="M535.0,343.4 L540.5,353.1 L529.5,353.1 Z" fill="#fff" fill-opacity="0.85" stroke="#ff00ff" stroke-width="2.2" stroke-linejoin="round"/>
<path d="M539.8,355.8 L545.3,365.5 L534.3,365.5 Z" fill="#fff" fill-opacity="0.85" stroke="#ff00ff" stroke-width="2.2" stroke-linejoin="round"/>
<path d="M535.0,393.1 L540.5,402.8 L529.5,402.8 Z" fill="#fff" fill-opacity="0.85" stroke="#ff00ff" stroke-width="2.2" stroke-linejoin="round"/>
<path d="M539.8,403.6 L545.3,413.3 L534.3,413.3 Z" fill="#fff" fill-opacity="0.85" stroke="#ff00ff" stroke-width="2.2" stroke-linejoin="round"/>
<path d="M521.7,426.5 L527.2,436.2 L516.2,436.2 Z" fill="#fff" fill-opacity="0.85" stroke="#ff00ff" stroke-width="2.2" stroke-linejoin="round"/>
<path d="M543.6,428.4 L549.1,438.1 L538.1,438.1 Z" fill="#fff" fill-opacity="0.85" stroke="#ff00ff" stroke-width="2.2" stroke-linejoin="round"/>
<path d="M530.3,444.7 L535.8,454.4 L524.8,454.4 Z" fill="#fff" fill-opacity="0.85" stroke="#ff00ff" stroke-width="2.2" stroke-linejoin="round"/>
<path d="M553.2,446.6 L558.7,456.3 L547.7,456.3 Z" fill="#fff" fill-opacity="0.85" stroke="#ff00ff" stroke-width="2.2" stroke-linejoin="round"/>
<path d="M539.8,455.2 L545.3,464.9 L534.3,464.9 Z" fill="#fff" fill-opacity="0.85" stroke="#ff00ff" stroke-width="2.2" stroke-linejoin="round"/>
<path d="M526.4,464.7 L531.9,474.4 L520.9,474.4 Z" fill="#fff" fill-opacity="0.85" stroke="#ff00ff" stroke-width="2.2" stroke-linejoin="round"/>
<path d="M536.0,462.8 L541.5,472.5 L530.5,472.5 Z" fill="#fff" fill-opacity="0.85" stroke="#ff00ff" stroke-width="2.2" stroke-linejoin="round"/>
<path d="M549.4,464.7 L554.9,474.4 L543.9,474.4 Z" fill="#fff" fill-opacity="0.85" stroke="#ff00ff" stroke-width="2.2" stroke-linejoin="round"/>
<path d="M517.8,481.9 L523.3,491.6 L512.3,491.6 Z" fill="#fff" fill-opacity="0.85" stroke="#ff00ff" stroke-width="2.2" stroke-linejoin="round"/>
<path d="M539.8,480.0 L545.3,489.7 L534.3,489.7 Z" fill="#fff" fill-opacity="0.85" stroke="#ff00ff" stroke-width="2.2" stroke-linejoin="round"/>
<path d="M545.5,483.8 L551.0,493.5 L540.0,493.5 Z" fill="#fff" fill-opacity="0.85" stroke="#ff00ff" stroke-width="2.2" stroke-linejoin="round"/>
<path d="M521.7,491.5 L527.2,501.2 L516.2,501.2 Z" fill="#fff" fill-opacity="0.85" stroke="#ff00ff" stroke-width="2.2" stroke-linejoin="round"/>
<path d="M534.1,494.3 L539.6,504.0 L528.6,504.0 Z" fill="#fff" fill-opacity="0.85" stroke="#ff00ff" stroke-width="2.2" stroke-linejoin="round"/>
<path d="M549.4,489.6 L554.9,499.3 L543.9,499.3 Z" fill="#fff" fill-opacity="0.85" stroke="#ff00ff" stroke-width="2.2" stroke-linejoin="round"/>
<path d="M558.0,504.9 L563.5,514.6 L552.5,514.6 Z" fill="#fff" fill-opacity="0.85" stroke="#ff00ff" stroke-width="2.2" stroke-linejoin="round"/>
<path d="M530.3,508.7 L535.8,518.4 L524.8,518.4 Z" fill="#fff" fill-opacity="0.85" stroke="#ff00ff" stroke-width="2.2" stroke-linejoin="round"/>
<path d="M553.2,518.2 L558.7,527.9 L547.7,527.9 Z" fill="#fff" fill-opacity="0.85" stroke="#ff00ff" stroke-width="2.2" stroke-linejoin="round"/>
<path d="M537.9,570.8 L543.4,580.5 L532.4,580.5 Z" fill="#fff" fill-opacity="0.85" stroke="#ff00ff" stroke-width="2.2" stroke-linejoin="round"/>
<line x1="646.5" y1="551.4" x2="646.5" y2="564.1" stroke="#0000ff" stroke-width="1.9" />
<line x1="646.5" y1="589.5" x2="646.5" y2="605.5" stroke="#0000ff" stroke-width="1.9" />
<line x1="638.5" y1="605.5" x2="654.5" y2="605.5" stroke="#0000ff" stroke-width="1.8" />
<rect x="625.3" y="564.1" width="46.30000000000007" height="25.399999999999977" fill="none" stroke="#0000ff" stroke-width="2.2"/>
<line x1="625.3" y1="579.7" x2="671.6" y2="579.7" stroke="#0000ff" stroke-width="1.9" />
<path d="M651.5,545.7 L657.2,551.4 L651.5,557.1 L645.8,551.4 Z" fill="#fff" fill-opacity="0.85" stroke="#0000ff" stroke-width="2.2" stroke-linejoin="round"/>
<path d="M645.3,549.8 L651.0,555.5 L645.3,561.2 L639.6,555.5 Z" fill="#fff" fill-opacity="0.85" stroke="#0000ff" stroke-width="2.2" stroke-linejoin="round"/>
<path d="M668.7,554.3 L674.4,560.0 L668.7,565.7 L663.0,560.0 Z" fill="#fff" fill-opacity="0.85" stroke="#0000ff" stroke-width="2.2" stroke-linejoin="round"/>
<path d="M634.7,557.6 L640.4,563.3 L634.7,569.0 L629.0,563.3 Z" fill="#fff" fill-opacity="0.85" stroke="#0000ff" stroke-width="2.2" stroke-linejoin="round"/>
<path d="M640.4,564.5 L646.1,570.2 L640.4,575.9 L634.7,570.2 Z" fill="#fff" fill-opacity="0.85" stroke="#0000ff" stroke-width="2.2" stroke-linejoin="round"/>
<path d="M628.1,566.2 L633.8,571.9 L628.1,577.6 L622.4,571.9 Z" fill="#fff" fill-opacity="0.85" stroke="#0000ff" stroke-width="2.2" stroke-linejoin="round"/>
<path d="M651.1,572.7 L656.8,578.4 L651.1,584.1 L645.4,578.4 Z" fill="#fff" fill-opacity="0.85" stroke="#0000ff" stroke-width="2.2" stroke-linejoin="round"/>
<path d="M656.8,572.7 L662.5,578.4 L656.8,584.1 L651.1,578.4 Z" fill="#fff" fill-opacity="0.85" stroke="#0000ff" stroke-width="2.2" stroke-linejoin="round"/>
<path d="M663.4,574.0 L669.1,579.7 L663.4,585.4 L657.7,579.7 Z" fill="#fff" fill-opacity="0.85" stroke="#0000ff" stroke-width="2.2" stroke-linejoin="round"/>
<path d="M634.7,583.8 L640.4,589.5 L634.7,595.2 L629.0,589.5 Z" fill="#fff" fill-opacity="0.85" stroke="#0000ff" stroke-width="2.2" stroke-linejoin="round"/>
<path d="M641.2,586.7 L646.9,592.4 L641.2,598.1 L635.5,592.4 Z" fill="#fff" fill-opacity="0.85" stroke="#0000ff" stroke-width="2.2" stroke-linejoin="round"/>
<path d="M649.4,582.6 L655.1,588.3 L649.4,594.0 L643.7,588.3 Z" fill="#fff" fill-opacity="0.85" stroke="#0000ff" stroke-width="2.2" stroke-linejoin="round"/>
<path d="M656.8,583.4 L662.5,589.1 L656.8,594.8 L651.1,589.1 Z" fill="#fff" fill-opacity="0.85" stroke="#0000ff" stroke-width="2.2" stroke-linejoin="round"/>
<path d="M663.4,589.5 L669.1,595.2 L663.4,600.9 L657.7,595.2 Z" fill="#fff" fill-opacity="0.85" stroke="#0000ff" stroke-width="2.2" stroke-linejoin="round"/>
<path d="M646.1,599.8 L651.8,605.5 L646.1,611.2 L640.4,605.5 Z" fill="#fff" fill-opacity="0.85" stroke="#0000ff" stroke-width="2.2" stroke-linejoin="round"/>
<line x1="702.6" y1="263.6" x2="702.6" y2="365.1" stroke="#ff00ff" stroke-width="1.9" />
<line x1="702.6" y1="453" x2="702.6" y2="480.2" stroke="#ff00ff" stroke-width="1.9" />
<line x1="694.6" y1="263.6" x2="710.6" y2="263.6" stroke="#ff00ff" stroke-width="1.8" />
<line x1="694.6" y1="480.2" x2="710.6" y2="480.2" stroke="#ff00ff" stroke-width="1.8" />
<rect x="679.8" y="365.1" width="44.40000000000009" height="87.89999999999998" fill="none" stroke="#ff00ff" stroke-width="2.2"/>
<line x1="679.8" y1="408.6" x2="724.2" y2="408.6" stroke="#ff00ff" stroke-width="1.9" />
<path d="M702.4,257.9 L708.1,263.6 L702.4,269.3 L696.7,263.6 Z" fill="#fff" fill-opacity="0.85" stroke="#ff00ff" stroke-width="2.2" stroke-linejoin="round"/>
<path d="M689.8,333.1 L695.5,338.8 L689.8,344.5 L684.1,338.8 Z" fill="#fff" fill-opacity="0.85" stroke="#ff00ff" stroke-width="2.2" stroke-linejoin="round"/>
<path d="M702.4,350.3 L708.1,356.0 L702.4,361.7 L696.7,356.0 Z" fill="#fff" fill-opacity="0.85" stroke="#ff00ff" stroke-width="2.2" stroke-linejoin="round"/>
<path d="M695.2,361.2 L700.9,366.9 L695.2,372.6 L689.5,366.9 Z" fill="#fff" fill-opacity="0.85" stroke="#ff00ff" stroke-width="2.2" stroke-linejoin="round"/>
<path d="M708.8,358.5 L714.5,364.2 L708.8,369.9 L703.1,364.2 Z" fill="#fff" fill-opacity="0.85" stroke="#ff00ff" stroke-width="2.2" stroke-linejoin="round"/>
<path d="M716.0,363.9 L721.7,369.6 L716.0,375.3 L710.3,369.6 Z" fill="#fff" fill-opacity="0.85" stroke="#ff00ff" stroke-width="2.2" stroke-linejoin="round"/>
<path d="M702.4,395.6 L708.1,401.3 L702.4,407.0 L696.7,401.3 Z" fill="#fff" fill-opacity="0.85" stroke="#ff00ff" stroke-width="2.2" stroke-linejoin="round"/>
<path d="M695.2,402.0 L700.9,407.7 L695.2,413.4 L689.5,407.7 Z" fill="#fff" fill-opacity="0.85" stroke="#ff00ff" stroke-width="2.2" stroke-linejoin="round"/>
<path d="M708.8,402.0 L714.5,407.7 L708.8,413.4 L703.1,407.7 Z" fill="#fff" fill-opacity="0.85" stroke="#ff00ff" stroke-width="2.2" stroke-linejoin="round"/>
<path d="M722.4,429.2 L728.1,434.9 L722.4,440.6 L716.7,434.9 Z" fill="#fff" fill-opacity="0.85" stroke="#ff00ff" stroke-width="2.2" stroke-linejoin="round"/>
<path d="M708.8,436.4 L714.5,442.1 L708.8,447.8 L703.1,442.1 Z" fill="#fff" fill-opacity="0.85" stroke="#ff00ff" stroke-width="2.2" stroke-linejoin="round"/>
<path d="M702.4,446.4 L708.1,452.1 L702.4,457.8 L696.7,452.1 Z" fill="#fff" fill-opacity="0.85" stroke="#ff00ff" stroke-width="2.2" stroke-linejoin="round"/>
<path d="M715.1,450.0 L720.8,455.7 L715.1,461.4 L709.4,455.7 Z" fill="#fff" fill-opacity="0.85" stroke="#ff00ff" stroke-width="2.2" stroke-linejoin="round"/>
<path d="M682.5,458.2 L688.2,463.9 L682.5,469.6 L676.8,463.9 Z" fill="#fff" fill-opacity="0.85" stroke="#ff00ff" stroke-width="2.2" stroke-linejoin="round"/>
<path d="M689.8,466.3 L695.5,472.0 L689.8,477.7 L684.1,472.0 Z" fill="#fff" fill-opacity="0.85" stroke="#ff00ff" stroke-width="2.2" stroke-linejoin="round"/>
<path d="M696.1,474.5 L701.8,480.2 L696.1,485.9 L690.4,480.2 Z" fill="#fff" fill-opacity="0.85" stroke="#ff00ff" stroke-width="2.2" stroke-linejoin="round"/>
<text x="9" y="787.5" font-size="30.5" fill="#000" text-anchor="start" >B</text>
<text x="468" y="787" font-size="28.2" fill="#000" text-anchor="middle" >Chromatin storage and loss modulus</text>
<path d="M219,833.2 L219,826.7 Q219,825.2 220.5,825.2 L697.2,825.2 Q698.7,825.2 698.7,826.7 L698.7,833.2" fill="none" stroke="#000" stroke-width="3.2" stroke-linecap="round" stroke-linejoin="round"/>
<use href="#ast" x="437.1" y="812"/>
<use href="#ast" x="450.7" y="812"/>
<use href="#ast" x="464.3" y="812"/>
<path d="M159.3,856.4 L159.3,849.9 Q159.3,848.4 160.8,848.4 L648.7,848.4 Q650.2,848.4 650.2,849.9 L650.2,856.4" fill="none" stroke="#000" stroke-width="3.2" stroke-linecap="round" stroke-linejoin="round"/>
<use href="#ast" x="394.8" y="836"/>
<use href="#ast" x="408.4" y="836"/>
<use href="#ast" x="422.0" y="836"/>
<path d="M390.1,873.9 L390.1,867.4 Q390.1,865.9 391.6,865.9 L697.2,865.9 Q698.7,865.9 698.7,867.4 L698.7,873.9" fill="none" stroke="#000" stroke-width="3.2" stroke-linecap="round" stroke-linejoin="round"/>
<use href="#ast" x="528.8" y="856.8"/>
<use href="#ast" x="542.4" y="856.8"/>
<use href="#ast" x="556.0" y="856.8"/>
<path d="M327.9,894 L327.9,887.5 Q327.9,886 329.4,886 L648.0,886 Q649.5,886 649.5,887.5 L649.5,894" fill="none" stroke="#000" stroke-width="3.2" stroke-linecap="round" stroke-linejoin="round"/>
<use href="#ast" x="458.6" y="876.5"/>
<use href="#ast" x="472.2" y="876.5"/>
<use href="#ast" x="485.8" y="876.5"/>
<path d="M391.8,918.7 L391.8,912.2 Q391.8,910.7 393.3,910.7 L525.8,910.7 Q527.3,910.7 527.3,912.2 L527.3,918.7" fill="none" stroke="#000" stroke-width="3.2" stroke-linecap="round" stroke-linejoin="round"/>
<text x="459.2" y="906.5" font-size="27" fill="#000" text-anchor="middle" >ns</text>
<path d="M327.9,948 L327.9,941.5 Q327.9,940 329.4,940 L482.9,940 Q484.4,940 484.4,941.5 L484.4,948" fill="none" stroke="#000" stroke-width="3.2" stroke-linecap="round" stroke-linejoin="round"/>
<use href="#ast" x="393.1" y="930.5"/>
<use href="#ast" x="406.7" y="930.5"/>
<path d="M219,973.2 L219,966.7 Q219,965.2 220.5,965.2 L533.2,965.2 Q534.7,965.2 534.7,966.7 L534.7,973.2" fill="none" stroke="#000" stroke-width="3.2" stroke-linecap="round" stroke-linejoin="round"/>
<use href="#ast" x="365.8" y="953.3"/>
<use href="#ast" x="379.4" y="953.3"/>
<use href="#ast" x="393.0" y="953.3"/>
<path d="M161,994.3 L161,987.8 Q161,986.3 162.5,986.3 L482.9,986.3 Q484.4,986.3 484.4,987.8 L484.4,994.3" fill="none" stroke="#000" stroke-width="3.2" stroke-linecap="round" stroke-linejoin="round"/>
<use href="#ast" x="307.1" y="974.8"/>
<use href="#ast" x="320.7" y="974.8"/>
<path d="M492.5,995.1 L492.5,988.6 Q492.5,987.1 494.0,987.1 L648.0,987.1 Q649.5,987.1 649.5,988.6 L649.5,995.1" fill="none" stroke="#000" stroke-width="3.2" stroke-linecap="round" stroke-linejoin="round"/>
<text x="572.6" y="980.3" font-size="27" fill="#000" text-anchor="middle" >ns</text>
<path d="M219,1029.9 L219,1023.4 Q219,1021.9 220.5,1021.9 L377.3,1021.9 Q378.8,1021.9 378.8,1023.4 L378.8,1029.9" fill="none" stroke="#000" stroke-width="3.2" stroke-linecap="round" stroke-linejoin="round"/>
<use href="#ast" x="294.2" y="1009.5"/>
<use href="#ast" x="307.8" y="1009.5"/>
<use href="#ast" x="321.4" y="1009.5"/>
<path d="M538.9,1039.7 L538.9,1033.2 Q538.9,1031.7 540.4,1031.7 L697.2,1031.7 Q698.7,1031.7 698.7,1033.2 L698.7,1039.7" fill="none" stroke="#000" stroke-width="3.2" stroke-linecap="round" stroke-linejoin="round"/>
<use href="#ast" x="607.8" y="1021.5"/>
<use href="#ast" x="621.4" y="1021.5"/>
<use href="#ast" x="635.0" y="1021.5"/>
<path d="M164.6,1066 L164.6,1059.5 Q164.6,1058 166.1,1058 L320.5,1058 Q322,1058 322,1059.5 L322,1066" fill="none" stroke="#000" stroke-width="3.2" stroke-linecap="round" stroke-linejoin="round"/>
<text x="249.4" y="1051.2" font-size="27" fill="#000" text-anchor="middle" >ns</text>
<line x1="105.4" y1="930" x2="105.4" y2="1359.2" stroke="#0000ff" stroke-width="2.1" />
<line x1="754.4" y1="930" x2="754.4" y2="1359.2" stroke="#ff00ff" stroke-width="2.1" />
<line x1="96.9" y1="1359.2" x2="105.4" y2="1359.2" stroke="#0000ff" stroke-width="2" />
<line x1="754.4" y1="1359.2" x2="762.9" y2="1359.2" stroke="#ff00ff" stroke-width="2" />
<text x="88" y="1367.4" font-size="23" fill="#0000ff" text-anchor="end" >0</text>
<text x="769.5" y="1367.4" font-size="23" fill="#ff00ff" text-anchor="start" >0</text>
<line x1="101.4" y1="1332.375" x2="105.4" y2="1332.375" stroke="#0000ff" stroke-width="2" />
<line x1="754.4" y1="1332.375" x2="758.4" y2="1332.375" stroke="#ff00ff" stroke-width="2" />
<line x1="96.9" y1="1305.55" x2="105.4" y2="1305.55" stroke="#0000ff" stroke-width="2" />
<line x1="754.4" y1="1305.55" x2="762.9" y2="1305.55" stroke="#ff00ff" stroke-width="2" />
<text x="88" y="1313.75" font-size="23" fill="#0000ff" text-anchor="end" >50</text>
<text x="769.5" y="1313.75" font-size="23" fill="#ff00ff" text-anchor="start" >50</text>
<line x1="101.4" y1="1278.7250000000001" x2="105.4" y2="1278.7250000000001" stroke="#0000ff" stroke-width="2" />
<line x1="754.4" y1="1278.7250000000001" x2="758.4" y2="1278.7250000000001" stroke="#ff00ff" stroke-width="2" />
<line x1="96.9" y1="1251.9" x2="105.4" y2="1251.9" stroke="#0000ff" stroke-width="2" />
<line x1="754.4" y1="1251.9" x2="762.9" y2="1251.9" stroke="#ff00ff" stroke-width="2" />
<text x="88" y="1260.1000000000001" font-size="23" fill="#0000ff" text-anchor="end" >100</text>
<text x="769.5" y="1260.1000000000001" font-size="23" fill="#ff00ff" text-anchor="start" >100</text>
<line x1="101.4" y1="1225.075" x2="105.4" y2="1225.075" stroke="#0000ff" stroke-width="2" />
<line x1="754.4" y1="1225.075" x2="758.4" y2="1225.075" stroke="#ff00ff" stroke-width="2" />
<line x1="96.9" y1="1198.25" x2="105.4" y2="1198.25" stroke="#0000ff" stroke-width="2" />
<line x1="754.4" y1="1198.25" x2="762.9" y2="1198.25" stroke="#ff00ff" stroke-width="2" />
<text x="88" y="1206.45" font-size="23" fill="#0000ff" text-anchor="end" >150</text>
<text x="769.5" y="1206.45" font-size="23" fill="#ff00ff" text-anchor="start" >150</text>
<line x1="101.4" y1="1171.425" x2="105.4" y2="1171.425" stroke="#0000ff" stroke-width="2" />
<line x1="754.4" y1="1171.425" x2="758.4" y2="1171.425" stroke="#ff00ff" stroke-width="2" />
<line x1="96.9" y1="1144.6" x2="105.4" y2="1144.6" stroke="#0000ff" stroke-width="2" />
<line x1="754.4" y1="1144.6" x2="762.9" y2="1144.6" stroke="#ff00ff" stroke-width="2" />
<text x="88" y="1152.8" font-size="23" fill="#0000ff" text-anchor="end" >200</text>
<text x="769.5" y="1152.8" font-size="23" fill="#ff00ff" text-anchor="start" >200</text>
<line x1="101.4" y1="1117.775" x2="105.4" y2="1117.775" stroke="#0000ff" stroke-width="2" />
<line x1="754.4" y1="1117.775" x2="758.4" y2="1117.775" stroke="#ff00ff" stroke-width="2" />
<line x1="96.9" y1="1090.95" x2="105.4" y2="1090.95" stroke="#0000ff" stroke-width="2" />
<line x1="754.4" y1="1090.95" x2="762.9" y2="1090.95" stroke="#ff00ff" stroke-width="2" />
<text x="88" y="1099.15" font-size="23" fill="#0000ff" text-anchor="end" >250</text>
<text x="769.5" y="1099.15" font-size="23" fill="#ff00ff" text-anchor="start" >250</text>
<line x1="101.4" y1="1064.125" x2="105.4" y2="1064.125" stroke="#0000ff" stroke-width="2" />
<line x1="754.4" y1="1064.125" x2="758.4" y2="1064.125" stroke="#ff00ff" stroke-width="2" />
<line x1="96.9" y1="1037.3" x2="105.4" y2="1037.3" stroke="#0000ff" stroke-width="2" />
<line x1="754.4" y1="1037.3" x2="762.9" y2="1037.3" stroke="#ff00ff" stroke-width="2" />
<text x="88" y="1045.5" font-size="23" fill="#0000ff" text-anchor="end" >300</text>
<text x="769.5" y="1045.5" font-size="23" fill="#ff00ff" text-anchor="start" >300</text>
<line x1="101.4" y1="1010.4749999999999" x2="105.4" y2="1010.4749999999999" stroke="#0000ff" stroke-width="2" />
<line x1="754.4" y1="1010.4749999999999" x2="758.4" y2="1010.4749999999999" stroke="#ff00ff" stroke-width="2" />
<line x1="96.9" y1="983.65" x2="105.4" y2="983.65" stroke="#0000ff" stroke-width="2" />
<line x1="754.4" y1="983.65" x2="762.9" y2="983.65" stroke="#ff00ff" stroke-width="2" />
<text x="88" y="991.85" font-size="23" fill="#0000ff" text-anchor="end" >350</text>
<text x="769.5" y="991.85" font-size="23" fill="#ff00ff" text-anchor="start" >350</text>
<line x1="101.4" y1="956.825" x2="105.4" y2="956.825" stroke="#0000ff" stroke-width="2" />
<line x1="754.4" y1="956.825" x2="758.4" y2="956.825" stroke="#ff00ff" stroke-width="2" />
<line x1="96.9" y1="930.0" x2="105.4" y2="930.0" stroke="#0000ff" stroke-width="2" />
<line x1="754.4" y1="930.0" x2="762.9" y2="930.0" stroke="#ff00ff" stroke-width="2" />
<text x="88" y="938.2" font-size="23" fill="#0000ff" text-anchor="end" >400</text>
<text x="769.5" y="938.2" font-size="23" fill="#ff00ff" text-anchor="start" >400</text>
<line x1="105.4" y1="1359.2" x2="754.4" y2="1359.2" stroke="#111" stroke-width="2" />
<line x1="185" y1="1359.2" x2="185" y2="1367.7" stroke="#111" stroke-width="1.8" />
<text x="185" y="1395" font-size="23" fill="#000" text-anchor="middle" >0.1</text>
<line x1="347.1" y1="1359.2" x2="347.1" y2="1367.7" stroke="#111" stroke-width="1.8" />
<text x="347.1" y="1395" font-size="23" fill="#000" text-anchor="middle" >0.3</text>
<line x1="510.5" y1="1359.2" x2="510.5" y2="1367.7" stroke="#111" stroke-width="1.8" />
<text x="510.5" y="1395" font-size="23" fill="#000" text-anchor="middle" >0.8</text>
<line x1="673.5" y1="1359.2" x2="673.5" y2="1367.7" stroke="#111" stroke-width="1.8" />
<text x="673.5" y="1395" font-size="23" fill="#000" text-anchor="middle" >5</text>
<line x1="184.5" y1="1405.3" x2="678" y2="1405.3" stroke="#000" stroke-width="3.2" />
<text x="428.2" y="1436.4" font-size="26.3" fill="#000" text-anchor="middle" >Stress frequency (Hz)</text>
<text transform="translate(37.4,1144.1) rotate(-90)" font-size="26.1" fill="#0000ff" text-anchor="middle">Storage modulus G'(Pa)</text>
<text transform="translate(839.2,1145.4) rotate(-90)" font-size="26" fill="#ff00ff" text-anchor="middle">Loss modulus G''(Pa)</text>
<line x1="159.4" y1="1152" x2="159.4" y2="1212.7" stroke="#0000ff" stroke-width="1.9" />
<line x1="159.4" y1="1264" x2="159.4" y2="1315.3" stroke="#0000ff" stroke-width="1.9" />
<line x1="151.4" y1="1152" x2="167.4" y2="1152" stroke="#0000ff" stroke-width="1.8" />
<rect x="137.4" y="1212.7" width="44.5" height="51.299999999999955" fill="none" stroke="#0000ff" stroke-width="2.2"/>
<line x1="137.4" y1="1258" x2="181.9" y2="1258" stroke="#0000ff" stroke-width="1.9" />
<rect x="161.55" y="1148.15" width="8.3" height="8.3" rx="1.2" fill="#fff" fill-opacity="0.85" stroke="#0000ff" stroke-width="2.3"/>
<rect x="148.25" y="1175.55" width="8.3" height="8.3" rx="1.2" fill="#fff" fill-opacity="0.85" stroke="#0000ff" stroke-width="2.3"/>
<rect x="157.35" y="1192.45" width="8.3" height="8.3" rx="1.2" fill="#fff" fill-opacity="0.85" stroke="#0000ff" stroke-width="2.3"/>
<rect x="152.45" y="1191.75" width="8.3" height="8.3" rx="1.2" fill="#fff" fill-opacity="0.85" stroke="#0000ff" stroke-width="2.3"/>
<rect x="147.55" y="1200.15" width="8.3" height="8.3" rx="1.2" fill="#fff" fill-opacity="0.85" stroke="#0000ff" stroke-width="2.3"/>
<rect x="157.35" y="1217.05" width="8.3" height="8.3" rx="1.2" fill="#fff" fill-opacity="0.85" stroke="#0000ff" stroke-width="2.3"/>
<rect x="152.45" y="1226.15" width="8.3" height="8.3" rx="1.2" fill="#fff" fill-opacity="0.85" stroke="#0000ff" stroke-width="2.3"/>
<rect x="161.55" y="1240.85" width="8.3" height="8.3" rx="1.2" fill="#fff" fill-opacity="0.85" stroke="#0000ff" stroke-width="2.3"/>
<rect x="156.65" y="1252.85" width="8.3" height="8.3" rx="1.2" fill="#fff" fill-opacity="0.85" stroke="#0000ff" stroke-width="2.3"/>
<rect x="134.85" y="1264.75" width="8.3" height="8.3" rx="1.2" fill="#fff" fill-opacity="0.85" stroke="#0000ff" stroke-width="2.3"/>
<rect x="139.15" y="1259.85" width="8.3" height="8.3" rx="1.2" fill="#fff" fill-opacity="0.85" stroke="#0000ff" stroke-width="2.3"/>
<rect x="170.75" y="1259.85" width="8.3" height="8.3" rx="1.2" fill="#fff" fill-opacity="0.85" stroke="#0000ff" stroke-width="2.3"/>
<rect x="176.35" y="1268.35" width="8.3" height="8.3" rx="1.2" fill="#fff" fill-opacity="0.85" stroke="#0000ff" stroke-width="2.3"/>
<rect x="152.45" y="1269.75" width="8.3" height="8.3" rx="1.2" fill="#fff" fill-opacity="0.85" stroke="#0000ff" stroke-width="2.3"/>
<rect x="160.85" y="1263.35" width="8.3" height="8.3" rx="1.2" fill="#fff" fill-opacity="0.85" stroke="#0000ff" stroke-width="2.3"/>
<rect x="144.75" y="1276.05" width="8.3" height="8.3" rx="1.2" fill="#fff" fill-opacity="0.85" stroke="#0000ff" stroke-width="2.3"/>
<rect x="165.85" y="1273.85" width="8.3" height="8.3" rx="1.2" fill="#fff" fill-opacity="0.85" stroke="#0000ff" stroke-width="2.3"/>
<rect x="148.25" y="1284.45" width="8.3" height="8.3" rx="1.2" fill="#fff" fill-opacity="0.85" stroke="#0000ff" stroke-width="2.3"/>
<rect x="153.15" y="1311.15" width="8.3" height="8.3" rx="1.2" fill="#fff" fill-opacity="0.85" stroke="#0000ff" stroke-width="2.3"/>
<rect x="158.05" y="1305.55" width="8.3" height="8.3" rx="1.2" fill="#fff" fill-opacity="0.85" stroke="#0000ff" stroke-width="2.3"/>
<line x1="211" y1="1320" x2="211" y2="1334" stroke="#ff00ff" stroke-width="1.9" />
<line x1="211" y1="1349" x2="211" y2="1355" stroke="#ff00ff" stroke-width="1.9" />
<rect x="188.5" y="1334" width="45.5" height="15" fill="none" stroke="#ff00ff" stroke-width="2.2"/>
<line x1="188.5" y1="1343" x2="234" y2="1343" stroke="#ff00ff" stroke-width="1.9" />
<rect x="214.35" y="1315.65" width="8.3" height="8.3" rx="1.2" fill="#fff" fill-opacity="0.85" stroke="#ff00ff" stroke-width="2.3"/>
<rect x="200.45" y="1319.75" width="8.3" height="8.3" rx="1.2" fill="#fff" fill-opacity="0.85" stroke="#ff00ff" stroke-width="2.3"/>
<rect x="194.75" y="1325.45" width="8.3" height="8.3" rx="1.2" fill="#fff" fill-opacity="0.85" stroke="#ff00ff" stroke-width="2.3"/>
<rect x="206.95" y="1322.95" width="8.3" height="8.3" rx="1.2" fill="#fff" fill-opacity="0.85" stroke="#ff00ff" stroke-width="2.3"/>
<rect x="202.85" y="1329.15" width="8.3" height="8.3" rx="1.2" fill="#fff" fill-opacity="0.85" stroke="#ff00ff" stroke-width="2.3"/>
<rect x="188.95" y="1330.35" width="8.3" height="8.3" rx="1.2" fill="#fff" fill-opacity="0.85" stroke="#ff00ff" stroke-width="2.3"/>
<rect x="215.15" y="1329.55" width="8.3" height="8.3" rx="1.2" fill="#fff" fill-opacity="0.85" stroke="#ff00ff" stroke-width="2.3"/>
<rect x="228.35" y="1330.35" width="8.3" height="8.3" rx="1.2" fill="#fff" fill-opacity="0.85" stroke="#ff00ff" stroke-width="2.3"/>
<rect x="220.95" y="1333.65" width="8.3" height="8.3" rx="1.2" fill="#fff" fill-opacity="0.85" stroke="#ff00ff" stroke-width="2.3"/>
<rect x="210.25" y="1332.85" width="8.3" height="8.3" rx="1.2" fill="#fff" fill-opacity="0.85" stroke="#ff00ff" stroke-width="2.3"/>
<rect x="186.55" y="1337.75" width="8.3" height="8.3" rx="1.2" fill="#fff" fill-opacity="0.85" stroke="#ff00ff" stroke-width="2.3"/>
<rect x="199.65" y="1340.15" width="8.3" height="8.3" rx="1.2" fill="#fff" fill-opacity="0.85" stroke="#ff00ff" stroke-width="2.3"/>
<rect x="208.65" y="1340.15" width="8.3" height="8.3" rx="1.2" fill="#fff" fill-opacity="0.85" stroke="#ff00ff" stroke-width="2.3"/>
<rect x="216.05" y="1340.15" width="8.3" height="8.3" rx="1.2" fill="#fff" fill-opacity="0.85" stroke="#ff00ff" stroke-width="2.3"/>
<rect x="228.35" y="1339.35" width="8.3" height="8.3" rx="1.2" fill="#fff" fill-opacity="0.85" stroke="#ff00ff" stroke-width="2.3"/>
<rect x="194.75" y="1347.55" width="8.3" height="8.3" rx="1.2" fill="#fff" fill-opacity="0.85" stroke="#ff00ff" stroke-width="2.3"/>
<rect x="213.55" y="1347.55" width="8.3" height="8.3" rx="1.2" fill="#fff" fill-opacity="0.85" stroke="#ff00ff" stroke-width="2.3"/>
<rect x="204.55" y="1343.45" width="8.3" height="8.3" rx="1.2" fill="#fff" fill-opacity="0.85" stroke="#ff00ff" stroke-width="2.3"/>
<rect x="221.75" y="1341.85" width="8.3" height="8.3" rx="1.2" fill="#fff" fill-opacity="0.85" stroke="#ff00ff" stroke-width="2.3"/>
<line x1="322.3" y1="1177.2" x2="322.3" y2="1245" stroke="#0000ff" stroke-width="1.9" />
<line x1="322.3" y1="1294.4" x2="322.3" y2="1325.6" stroke="#0000ff" stroke-width="1.9" />
<line x1="314.3" y1="1177.2" x2="330.3" y2="1177.2" stroke="#0000ff" stroke-width="1.8" />
<rect x="299.5" y="1245" width="44.60000000000002" height="49.40000000000009" fill="none" stroke="#0000ff" stroke-width="2.2"/>
<line x1="299.5" y1="1273.9" x2="344.1" y2="1273.9" stroke="#0000ff" stroke-width="1.9" />
<circle cx="321.5" cy="1082.8" r="4.7" fill="#fff" fill-opacity="0.85" stroke="#0000ff" stroke-width="2.2"/>
<circle cx="325.3" cy="1145.2" r="4.7" fill="#fff" fill-opacity="0.85" stroke="#0000ff" stroke-width="2.2"/>
<circle cx="329.1" cy="1164.3" r="4.7" fill="#fff" fill-opacity="0.85" stroke="#0000ff" stroke-width="2.2"/>
<circle cx="317.7" cy="1175.7" r="4.7" fill="#fff" fill-opacity="0.85" stroke="#0000ff" stroke-width="2.2"/>
<circle cx="313.9" cy="1181.0" r="4.7" fill="#fff" fill-opacity="0.85" stroke="#0000ff" stroke-width="2.2"/>
<circle cx="321.5" cy="1188.6" r="4.7" fill="#fff" fill-opacity="0.85" stroke="#0000ff" stroke-width="2.2"/>
<circle cx="321.5" cy="1243.4" r="4.7" fill="#fff" fill-opacity="0.85" stroke="#0000ff" stroke-width="2.2"/>
<circle cx="316.2" cy="1254.1" r="4.7" fill="#fff" fill-opacity="0.85" stroke="#0000ff" stroke-width="2.2"/>
<circle cx="304.8" cy="1259.4" r="4.7" fill="#fff" fill-opacity="0.85" stroke="#0000ff" stroke-width="2.2"/>
<circle cx="334.5" cy="1259.4" r="4.7" fill="#fff" fill-opacity="0.85" stroke="#0000ff" stroke-width="2.2"/>
<circle cx="301.0" cy="1269.3" r="4.7" fill="#fff" fill-opacity="0.85" stroke="#0000ff" stroke-width="2.2"/>
<circle cx="342.1" cy="1269.3" r="4.7" fill="#fff" fill-opacity="0.85" stroke="#0000ff" stroke-width="2.2"/>
<circle cx="308.6" cy="1273.9" r="4.7" fill="#fff" fill-opacity="0.85" stroke="#0000ff" stroke-width="2.2"/>
<circle cx="323.1" cy="1281.5" r="4.7" fill="#fff" fill-opacity="0.85" stroke="#0000ff" stroke-width="2.2"/>
<circle cx="330.7" cy="1281.5" r="4.7" fill="#fff" fill-opacity="0.85" stroke="#0000ff" stroke-width="2.2"/>
<circle cx="312.4" cy="1286.8" r="4.7" fill="#fff" fill-opacity="0.85" stroke="#0000ff" stroke-width="2.2"/>
<circle cx="338.3" cy="1289.9" r="4.7" fill="#fff" fill-opacity="0.85" stroke="#0000ff" stroke-width="2.2"/>
<circle cx="317.7" cy="1292.9" r="4.7" fill="#fff" fill-opacity="0.85" stroke="#0000ff" stroke-width="2.2"/>
<circle cx="326.9" cy="1292.9" r="4.7" fill="#fff" fill-opacity="0.85" stroke="#0000ff" stroke-width="2.2"/>
<circle cx="330.7" cy="1305.1" r="4.7" fill="#fff" fill-opacity="0.85" stroke="#0000ff" stroke-width="2.2"/>
<circle cx="319.3" cy="1311.9" r="4.7" fill="#fff" fill-opacity="0.85" stroke="#0000ff" stroke-width="2.2"/>
<circle cx="312.4" cy="1318.0" r="4.7" fill="#fff" fill-opacity="0.85" stroke="#0000ff" stroke-width="2.2"/>
<circle cx="326.9" cy="1315.7" r="4.7" fill="#fff" fill-opacity="0.85" stroke="#0000ff" stroke-width="2.2"/>
<circle cx="317.0" cy="1324.1" r="4.7" fill="#fff" fill-opacity="0.85" stroke="#0000ff" stroke-width="2.2"/>
<circle cx="323.8" cy="1325.6" r="4.7" fill="#fff" fill-opacity="0.85" stroke="#0000ff" stroke-width="2.2"/>
<line x1="374.8" y1="1174.2" x2="374.8" y2="1245.6" stroke="#ff00ff" stroke-width="1.9" />
<line x1="374.8" y1="1305" x2="374.8" y2="1336.6" stroke="#ff00ff" stroke-width="1.9" />
<line x1="366.8" y1="1174.2" x2="382.8" y2="1174.2" stroke="#ff00ff" stroke-width="1.8" />
<line x1="366.8" y1="1336.6" x2="382.8" y2="1336.6" stroke="#ff00ff" stroke-width="1.8" />
<rect x="352.3" y="1245.6" width="44.69999999999999" height="59.40000000000009" fill="none" stroke="#ff00ff" stroke-width="2.2"/>
<line x1="352.3" y1="1293.5" x2="397" y2="1293.5" stroke="#ff00ff" stroke-width="1.9" />
<circle cx="374.8" cy="1174.2" r="4.7" fill="#fff" fill-opacity="0.85" stroke="#ff00ff" stroke-width="2.2"/>
<circle cx="377.1" cy="1216.0" r="4.7" fill="#fff" fill-opacity="0.85" stroke="#ff00ff" stroke-width="2.2"/>
<circle cx="372.5" cy="1229.0" r="4.7" fill="#fff" fill-opacity="0.85" stroke="#ff00ff" stroke-width="2.2"/>
<circle cx="380.9" cy="1236.6" r="4.7" fill="#fff" fill-opacity="0.85" stroke="#ff00ff" stroke-width="2.2"/>
<circle cx="368.0" cy="1240.4" r="4.7" fill="#fff" fill-opacity="0.85" stroke="#ff00ff" stroke-width="2.2"/>
<circle cx="373.3" cy="1245.0" r="4.7" fill="#fff" fill-opacity="0.85" stroke="#ff00ff" stroke-width="2.2"/>
<circle cx="377.7" cy="1265.2" r="4.7" fill="#fff" fill-opacity="0.85" stroke="#ff00ff" stroke-width="2.2"/>
<circle cx="372.8" cy="1271.0" r="4.7" fill="#fff" fill-opacity="0.85" stroke="#ff00ff" stroke-width="2.2"/>
<circle cx="367.0" cy="1275.9" r="4.7" fill="#fff" fill-opacity="0.85" stroke="#ff00ff" stroke-width="2.2"/>
<circle cx="377.7" cy="1282.5" r="4.7" fill="#fff" fill-opacity="0.85" stroke="#ff00ff" stroke-width="2.2"/>
<circle cx="372.4" cy="1293.1" r="4.7" fill="#fff" fill-opacity="0.85" stroke="#ff00ff" stroke-width="2.2"/>
<circle cx="381.0" cy="1293.1" r="4.7" fill="#fff" fill-opacity="0.85" stroke="#ff00ff" stroke-width="2.2"/>
<circle cx="394.9" cy="1298.9" r="4.7" fill="#fff" fill-opacity="0.85" stroke="#ff00ff" stroke-width="2.2"/>
<circle cx="365.4" cy="1305.4" r="4.7" fill="#fff" fill-opacity="0.85" stroke="#ff00ff" stroke-width="2.2"/>
<circle cx="384.3" cy="1302.1" r="4.7" fill="#fff" fill-opacity="0.85" stroke="#ff00ff" stroke-width="2.2"/>
<circle cx="379.3" cy="1307.9" r="4.7" fill="#fff" fill-opacity="0.85" stroke="#ff00ff" stroke-width="2.2"/>
<circle cx="354.8" cy="1308.7" r="4.7" fill="#fff" fill-opacity="0.85" stroke="#ff00ff" stroke-width="2.2"/>
<circle cx="360.5" cy="1313.6" r="4.7" fill="#fff" fill-opacity="0.85" stroke="#ff00ff" stroke-width="2.2"/>
<circle cx="370.3" cy="1315.2" r="4.7" fill="#fff" fill-opacity="0.85" stroke="#ff00ff" stroke-width="2.2"/>
<circle cx="390.0" cy="1316.1" r="4.7" fill="#fff" fill-opacity="0.85" stroke="#ff00ff" stroke-width="2.2"/>
<circle cx="380.2" cy="1324.3" r="4.7" fill="#fff" fill-opacity="0.85" stroke="#ff00ff" stroke-width="2.2"/>
<circle cx="369.5" cy="1327.5" r="4.7" fill="#fff" fill-opacity="0.85" stroke="#ff00ff" stroke-width="2.2"/>
<circle cx="375.2" cy="1336.6" r="4.7" fill="#fff" fill-opacity="0.85" stroke="#ff00ff" stroke-width="2.2"/>
<line x1="483.5" y1="1096" x2="483.5" y2="1172.2" stroke="#0000ff" stroke-width="1.9" />
<line x1="483.5" y1="1229.3" x2="483.5" y2="1298.1" stroke="#0000ff" stroke-width="1.9" />
<line x1="475.5" y1="1096" x2="491.5" y2="1096" stroke="#0000ff" stroke-width="1.8" />
<line x1="475.5" y1="1298.1" x2="491.5" y2="1298.1" stroke="#0000ff" stroke-width="1.8" />
<rect x="462.3" y="1172.2" width="44.80000000000001" height="57.09999999999991" fill="none" stroke="#0000ff" stroke-width="2.2"/>
<line x1="462.3" y1="1205.7" x2="507.1" y2="1205.7" stroke="#0000ff" stroke-width="1.9" />
<path d="M484.4,999.4 L489.9,1009.1 L478.9,1009.1 Z" fill="#fff" fill-opacity="0.85" stroke="#0000ff" stroke-width="2.2" stroke-linejoin="round"/>
<path d="M480.8,1090.9 L486.3,1100.6 L475.3,1100.6 Z" fill="#fff" fill-opacity="0.85" stroke="#0000ff" stroke-width="2.2" stroke-linejoin="round"/>
<path d="M484.4,1103.6 L489.9,1113.3 L478.9,1113.3 Z" fill="#fff" fill-opacity="0.85" stroke="#0000ff" stroke-width="2.2" stroke-linejoin="round"/>
<path d="M488.1,1135.3 L493.6,1145.0 L482.6,1145.0 Z" fill="#fff" fill-opacity="0.85" stroke="#0000ff" stroke-width="2.2" stroke-linejoin="round"/>
<path d="M489.9,1144.4 L495.4,1154.1 L484.4,1154.1 Z" fill="#fff" fill-opacity="0.85" stroke="#0000ff" stroke-width="2.2" stroke-linejoin="round"/>
<path d="M475.4,1165.2 L480.9,1174.9 L469.9,1174.9 Z" fill="#fff" fill-opacity="0.85" stroke="#0000ff" stroke-width="2.2" stroke-linejoin="round"/>
<path d="M482.6,1167.1 L488.1,1176.8 L477.1,1176.8 Z" fill="#fff" fill-opacity="0.85" stroke="#0000ff" stroke-width="2.2" stroke-linejoin="round"/>
<path d="M479.0,1180.7 L484.5,1190.4 L473.5,1190.4 Z" fill="#fff" fill-opacity="0.85" stroke="#0000ff" stroke-width="2.2" stroke-linejoin="round"/>
<path d="M493.5,1181.6 L499.0,1191.3 L488.0,1191.3 Z" fill="#fff" fill-opacity="0.85" stroke="#0000ff" stroke-width="2.2" stroke-linejoin="round"/>
<path d="M486.3,1190.6 L491.8,1200.3 L480.8,1200.3 Z" fill="#fff" fill-opacity="0.85" stroke="#0000ff" stroke-width="2.2" stroke-linejoin="round"/>
<path d="M470.8,1198.8 L476.3,1208.5 L465.3,1208.5 Z" fill="#fff" fill-opacity="0.85" stroke="#0000ff" stroke-width="2.2" stroke-linejoin="round"/>
<path d="M486.3,1196.1 L491.8,1205.8 L480.8,1205.8 Z" fill="#fff" fill-opacity="0.85" stroke="#0000ff" stroke-width="2.2" stroke-linejoin="round"/>
<path d="M500.8,1198.8 L506.3,1208.5 L495.3,1208.5 Z" fill="#fff" fill-opacity="0.85" stroke="#0000ff" stroke-width="2.2" stroke-linejoin="round"/>
<path d="M462.7,1214.2 L468.2,1223.9 L457.2,1223.9 Z" fill="#fff" fill-opacity="0.85" stroke="#0000ff" stroke-width="2.2" stroke-linejoin="round"/>
<path d="M481.7,1212.4 L487.2,1222.1 L476.2,1222.1 Z" fill="#fff" fill-opacity="0.85" stroke="#0000ff" stroke-width="2.2" stroke-linejoin="round"/>
<path d="M467.2,1223.3 L472.7,1233.0 L461.7,1233.0 Z" fill="#fff" fill-opacity="0.85" stroke="#0000ff" stroke-width="2.2" stroke-linejoin="round"/>
<path d="M475.4,1220.5 L480.9,1230.2 L469.9,1230.2 Z" fill="#fff" fill-opacity="0.85" stroke="#0000ff" stroke-width="2.2" stroke-linejoin="round"/>
<path d="M489.0,1224.2 L494.5,1233.9 L483.5,1233.9 Z" fill="#fff" fill-opacity="0.85" stroke="#0000ff" stroke-width="2.2" stroke-linejoin="round"/>
<path d="M497.1,1223.3 L502.6,1233.0 L491.6,1233.0 Z" fill="#fff" fill-opacity="0.85" stroke="#0000ff" stroke-width="2.2" stroke-linejoin="round"/>
<path d="M493.5,1236.8 L499.0,1246.5 L488.0,1246.5 Z" fill="#fff" fill-opacity="0.85" stroke="#0000ff" stroke-width="2.2" stroke-linejoin="round"/>
<path d="M506.2,1235.9 L511.7,1245.6 L500.7,1245.6 Z" fill="#fff" fill-opacity="0.85" stroke="#0000ff" stroke-width="2.2" stroke-linejoin="round"/>
<path d="M486.3,1246.8 L491.8,1256.5 L480.8,1256.5 Z" fill="#fff" fill-opacity="0.85" stroke="#0000ff" stroke-width="2.2" stroke-linejoin="round"/>
<path d="M482.6,1293.0 L488.1,1302.7 L477.1,1302.7 Z" fill="#fff" fill-opacity="0.85" stroke="#0000ff" stroke-width="2.2" stroke-linejoin="round"/>
<line x1="537.9" y1="1224.7" x2="537.9" y2="1262.8" stroke="#ff00ff" stroke-width="1.9" />
<line x1="537.9" y1="1294.5" x2="537.9" y2="1327.1" stroke="#ff00ff" stroke-width="1.9" />
<line x1="529.9" y1="1224.7" x2="545.9" y2="1224.7" stroke="#ff00ff" stroke-width="1.8" />
<line x1="529.9" y1="1327.1" x2="545.9" y2="1327.1" stroke="#ff00ff" stroke-width="1.8" />
<rect x="515.3" y="1262.8" width="44.40000000000009" height="31.700000000000045" fill="none" stroke="#ff00ff" stroke-width="2.2"/>
<line x1="515.3" y1="1280" x2="559.7" y2="1280" stroke="#ff00ff" stroke-width="1.9" />
<path d="M537.0,1170.7 L542.5,1180.4 L531.5,1180.4 Z" fill="#fff" fill-opacity="0.85" stroke="#ff00ff" stroke-width="2.2" stroke-linejoin="round"/>
<path d="M536.1,1219.6 L541.6,1229.3 L530.6,1229.3 Z" fill="#fff" fill-opacity="0.85" stroke="#ff00ff" stroke-width="2.2" stroke-linejoin="round"/>
<path d="M538.8,1225.1 L544.3,1234.8 L533.3,1234.8 Z" fill="#fff" fill-opacity="0.85" stroke="#ff00ff" stroke-width="2.2" stroke-linejoin="round"/>
<path d="M536.1,1240.5 L541.6,1250.2 L530.6,1250.2 Z" fill="#fff" fill-opacity="0.85" stroke="#ff00ff" stroke-width="2.2" stroke-linejoin="round"/>
<path d="M539.7,1245.9 L545.2,1255.6 L534.2,1255.6 Z" fill="#fff" fill-opacity="0.85" stroke="#ff00ff" stroke-width="2.2" stroke-linejoin="round"/>
<path d="M534.3,1253.2 L539.8,1262.9 L528.8,1262.9 Z" fill="#fff" fill-opacity="0.85" stroke="#ff00ff" stroke-width="2.2" stroke-linejoin="round"/>
<path d="M531.6,1257.7 L537.1,1267.4 L526.1,1267.4 Z" fill="#fff" fill-opacity="0.85" stroke="#ff00ff" stroke-width="2.2" stroke-linejoin="round"/>
<path d="M542.4,1260.4 L547.9,1270.1 L536.9,1270.1 Z" fill="#fff" fill-opacity="0.85" stroke="#ff00ff" stroke-width="2.2" stroke-linejoin="round"/>
<path d="M535.2,1264.9 L540.7,1274.6 L529.7,1274.6 Z" fill="#fff" fill-opacity="0.85" stroke="#ff00ff" stroke-width="2.2" stroke-linejoin="round"/>
<path d="M544.3,1266.8 L549.8,1276.5 L538.8,1276.5 Z" fill="#fff" fill-opacity="0.85" stroke="#ff00ff" stroke-width="2.2" stroke-linejoin="round"/>
<path d="M520.7,1273.1 L526.2,1282.8 L515.2,1282.8 Z" fill="#fff" fill-opacity="0.85" stroke="#ff00ff" stroke-width="2.2" stroke-linejoin="round"/>
<path d="M529.8,1274.9 L535.3,1284.6 L524.3,1284.6 Z" fill="#fff" fill-opacity="0.85" stroke="#ff00ff" stroke-width="2.2" stroke-linejoin="round"/>
<path d="M540.6,1275.8 L546.1,1285.5 L535.1,1285.5 Z" fill="#fff" fill-opacity="0.85" stroke="#ff00ff" stroke-width="2.2" stroke-linejoin="round"/>
<path d="M552.4,1273.1 L557.9,1282.8 L546.9,1282.8 Z" fill="#fff" fill-opacity="0.85" stroke="#ff00ff" stroke-width="2.2" stroke-linejoin="round"/>
<path d="M557.8,1282.2 L563.3,1291.9 L552.3,1291.9 Z" fill="#fff" fill-opacity="0.85" stroke="#ff00ff" stroke-width="2.2" stroke-linejoin="round"/>
<path d="M517.1,1285.8 L522.6,1295.5 L511.6,1295.5 Z" fill="#fff" fill-opacity="0.85" stroke="#ff00ff" stroke-width="2.2" stroke-linejoin="round"/>
<path d="M526.1,1284.0 L531.6,1293.7 L520.6,1293.7 Z" fill="#fff" fill-opacity="0.85" stroke="#ff00ff" stroke-width="2.2" stroke-linejoin="round"/>
<path d="M537.0,1285.8 L542.5,1295.5 L531.5,1295.5 Z" fill="#fff" fill-opacity="0.85" stroke="#ff00ff" stroke-width="2.2" stroke-linejoin="round"/>
<path d="M548.8,1286.7 L554.3,1296.4 L543.3,1296.4 Z" fill="#fff" fill-opacity="0.85" stroke="#ff00ff" stroke-width="2.2" stroke-linejoin="round"/>
<path d="M541.5,1292.1 L547.0,1301.8 L536.0,1301.8 Z" fill="#fff" fill-opacity="0.85" stroke="#ff00ff" stroke-width="2.2" stroke-linejoin="round"/>
<path d="M533.4,1300.3 L538.9,1310.0 L527.9,1310.0 Z" fill="#fff" fill-opacity="0.85" stroke="#ff00ff" stroke-width="2.2" stroke-linejoin="round"/>
<path d="M537.9,1322.0 L543.4,1331.7 L532.4,1331.7 Z" fill="#fff" fill-opacity="0.85" stroke="#ff00ff" stroke-width="2.2" stroke-linejoin="round"/>
<line x1="646.8" y1="1051.9" x2="646.8" y2="1134.8" stroke="#0000ff" stroke-width="1.9" />
<line x1="646.8" y1="1210" x2="646.8" y2="1286.6" stroke="#0000ff" stroke-width="1.9" />
<line x1="638.8" y1="1051.9" x2="654.8" y2="1051.9" stroke="#0000ff" stroke-width="1.8" />
<line x1="638.8" y1="1286.6" x2="654.8" y2="1286.6" stroke="#0000ff" stroke-width="1.8" />
<rect x="624" y="1134.8" width="44.700000000000045" height="75.20000000000005" fill="none" stroke="#0000ff" stroke-width="2.2"/>
<line x1="624" y1="1178.4" x2="668.7" y2="1178.4" stroke="#0000ff" stroke-width="1.9" />
<path d="M646.8,1046.2 L652.5,1051.9 L646.8,1057.6 L641.1,1051.9 Z" fill="#fff" fill-opacity="0.85" stroke="#0000ff" stroke-width="2.2" stroke-linejoin="round"/>
<path d="M629.0,1106.7 L634.7,1112.4 L629.0,1118.1 L623.3,1112.4 Z" fill="#fff" fill-opacity="0.85" stroke="#0000ff" stroke-width="2.2" stroke-linejoin="round"/>
<path d="M646.8,1121.4 L652.5,1127.1 L646.8,1132.8 L641.1,1127.1 Z" fill="#fff" fill-opacity="0.85" stroke="#0000ff" stroke-width="2.2" stroke-linejoin="round"/>
<path d="M638.1,1129.1 L643.8,1134.8 L638.1,1140.5 L632.4,1134.8 Z" fill="#fff" fill-opacity="0.85" stroke="#0000ff" stroke-width="2.2" stroke-linejoin="round"/>
<path d="M655.0,1127.7 L660.7,1133.4 L655.0,1139.1 L649.3,1133.4 Z" fill="#fff" fill-opacity="0.85" stroke="#0000ff" stroke-width="2.2" stroke-linejoin="round"/>
<path d="M664.1,1131.3 L669.8,1137.0 L664.1,1142.7 L658.4,1137.0 Z" fill="#fff" fill-opacity="0.85" stroke="#0000ff" stroke-width="2.2" stroke-linejoin="round"/>
<path d="M642.3,1161.5 L648.0,1167.2 L642.3,1172.9 L636.6,1167.2 Z" fill="#fff" fill-opacity="0.85" stroke="#0000ff" stroke-width="2.2" stroke-linejoin="round"/>
<path d="M650.7,1157.9 L656.4,1163.6 L650.7,1169.3 L645.0,1163.6 Z" fill="#fff" fill-opacity="0.85" stroke="#0000ff" stroke-width="2.2" stroke-linejoin="round"/>
<path d="M633.2,1183.9 L638.9,1189.6 L633.2,1195.3 L627.5,1189.6 Z" fill="#fff" fill-opacity="0.85" stroke="#0000ff" stroke-width="2.2" stroke-linejoin="round"/>
<path d="M659.9,1190.3 L665.6,1196.0 L659.9,1201.7 L654.2,1196.0 Z" fill="#fff" fill-opacity="0.85" stroke="#0000ff" stroke-width="2.2" stroke-linejoin="round"/>
<path d="M628.3,1200.8 L634.0,1206.5 L628.3,1212.2 L622.6,1206.5 Z" fill="#fff" fill-opacity="0.85" stroke="#0000ff" stroke-width="2.2" stroke-linejoin="round"/>
<path d="M646.8,1198.0 L652.5,1203.7 L646.8,1209.4 L641.1,1203.7 Z" fill="#fff" fill-opacity="0.85" stroke="#0000ff" stroke-width="2.2" stroke-linejoin="round"/>
<path d="M664.1,1207.8 L669.8,1213.5 L664.1,1219.2 L658.4,1213.5 Z" fill="#fff" fill-opacity="0.85" stroke="#0000ff" stroke-width="2.2" stroke-linejoin="round"/>
<path d="M655.0,1213.4 L660.7,1219.1 L655.0,1224.8 L649.3,1219.1 Z" fill="#fff" fill-opacity="0.85" stroke="#0000ff" stroke-width="2.2" stroke-linejoin="round"/>
<path d="M638.1,1220.5 L643.8,1226.2 L638.1,1231.9 L632.4,1226.2 Z" fill="#fff" fill-opacity="0.85" stroke="#0000ff" stroke-width="2.2" stroke-linejoin="round"/>
<path d="M646.8,1280.9 L652.5,1286.6 L646.8,1292.3 L641.1,1286.6 Z" fill="#fff" fill-opacity="0.85" stroke="#0000ff" stroke-width="2.2" stroke-linejoin="round"/>
<line x1="699.9" y1="1135.5" x2="699.9" y2="1193.2" stroke="#ff00ff" stroke-width="1.9" />
<line x1="699.9" y1="1247.2" x2="699.9" y2="1262" stroke="#ff00ff" stroke-width="1.9" />
<rect x="678.1" y="1193.2" width="44.299999999999955" height="54.0" fill="none" stroke="#ff00ff" stroke-width="2.2"/>
<line x1="678.1" y1="1218.4" x2="722.4" y2="1218.4" stroke="#ff00ff" stroke-width="1.9" />
<path d="M695.0,1129.8 L700.7,1135.5 L695.0,1141.2 L689.3,1135.5 Z" fill="#fff" fill-opacity="0.85" stroke="#ff00ff" stroke-width="2.2" stroke-linejoin="round"/>
<path d="M705.5,1129.8 L711.2,1135.5 L705.5,1141.2 L699.8,1135.5 Z" fill="#fff" fill-opacity="0.85" stroke="#ff00ff" stroke-width="2.2" stroke-linejoin="round"/>
<path d="M699.9,1174.1 L705.6,1179.8 L699.9,1185.5 L694.2,1179.8 Z" fill="#fff" fill-opacity="0.85" stroke="#ff00ff" stroke-width="2.2" stroke-linejoin="round"/>
<path d="M705.5,1183.9 L711.2,1189.6 L705.5,1195.3 L699.8,1189.6 Z" fill="#fff" fill-opacity="0.85" stroke="#ff00ff" stroke-width="2.2" stroke-linejoin="round"/>
<path d="M694.3,1190.3 L700.0,1196.0 L694.3,1201.7 L688.6,1196.0 Z" fill="#fff" fill-opacity="0.85" stroke="#ff00ff" stroke-width="2.2" stroke-linejoin="round"/>
<path d="M683.8,1191.7 L689.5,1197.4 L683.8,1203.1 L678.1,1197.4 Z" fill="#fff" fill-opacity="0.85" stroke="#ff00ff" stroke-width="2.2" stroke-linejoin="round"/>
<path d="M716.8,1189.6 L722.5,1195.3 L716.8,1201.0 L711.1,1195.3 Z" fill="#fff" fill-opacity="0.85" stroke="#ff00ff" stroke-width="2.2" stroke-linejoin="round"/>
<path d="M694.3,1214.2 L700.0,1219.9 L694.3,1225.6 L688.6,1219.9 Z" fill="#fff" fill-opacity="0.85" stroke="#ff00ff" stroke-width="2.2" stroke-linejoin="round"/>
<path d="M705.5,1211.3 L711.2,1217.0 L705.5,1222.7 L699.8,1217.0 Z" fill="#fff" fill-opacity="0.85" stroke="#ff00ff" stroke-width="2.2" stroke-linejoin="round"/>
<path d="M683.1,1230.3 L688.8,1236.0 L683.1,1241.7 L677.4,1236.0 Z" fill="#fff" fill-opacity="0.85" stroke="#ff00ff" stroke-width="2.2" stroke-linejoin="round"/>
<path d="M694.3,1235.2 L700.0,1240.9 L694.3,1246.6 L688.6,1240.9 Z" fill="#fff" fill-opacity="0.85" stroke="#ff00ff" stroke-width="2.2" stroke-linejoin="round"/>
<path d="M705.5,1240.8 L711.2,1246.5 L705.5,1252.2 L699.8,1246.5 Z" fill="#fff" fill-opacity="0.85" stroke="#ff00ff" stroke-width="2.2" stroke-linejoin="round"/>
<path d="M716.8,1242.3 L722.5,1248.0 L716.8,1253.7 L711.1,1248.0 Z" fill="#fff" fill-opacity="0.85" stroke="#ff00ff" stroke-width="2.2" stroke-linejoin="round"/>
<path d="M710.5,1248.6 L716.2,1254.3 L710.5,1260.0 L704.8,1254.3 Z" fill="#fff" fill-opacity="0.85" stroke="#ff00ff" stroke-width="2.2" stroke-linejoin="round"/>
<path d="M688.7,1251.4 L694.4,1257.1 L688.7,1262.8 L683.0,1257.1 Z" fill="#fff" fill-opacity="0.85" stroke="#ff00ff" stroke-width="2.2" stroke-linejoin="round"/>
<path d="M699.9,1256.3 L705.6,1262.0 L699.9,1267.7 L694.2,1262.0 Z" fill="#fff" fill-opacity="0.85" stroke="#ff00ff" stroke-width="2.2" stroke-linejoin="round"/>
<text x="8.5" y="1502.5" font-size="30.5" fill="#000" text-anchor="start" >C</text>
<text x="441.5" y="1497" font-size="28" fill="#000" text-anchor="middle" >Chromatin modulus</text>
<rect x="101.5" y="1512" width="663.5" height="434.5" fill="none" stroke="#111" stroke-width="2"/>
<line x1="92.5" y1="1946.25" x2="101.5" y2="1946.25" stroke="#111" stroke-width="1.8" />
<line x1="98.0" y1="1880.8512334420002" x2="101.5" y2="1880.8512334420002" stroke="#111" stroke-width="1.6" />
<line x1="98.0" y1="1842.5954074121532" x2="101.5" y2="1842.5954074121532" stroke="#111" stroke-width="1.6" />
<line x1="98.0" y1="1815.4524668840002" x2="101.5" y2="1815.4524668840002" stroke="#111" stroke-width="1.6" />
<line x1="98.0" y1="1794.3987665579998" x2="101.5" y2="1794.3987665579998" stroke="#111" stroke-width="1.6" />
<line x1="98.0" y1="1777.1966408541534" x2="101.5" y2="1777.1966408541534" stroke="#111" stroke-width="1.6" />
<line x1="98.0" y1="1762.6524508069026" x2="101.5" y2="1762.6524508069026" stroke="#111" stroke-width="1.6" />
<line x1="98.0" y1="1750.0537003260004" x2="101.5" y2="1750.0537003260004" stroke="#111" stroke-width="1.6" />
<line x1="98.0" y1="1738.9408148243067" x2="101.5" y2="1738.9408148243067" stroke="#111" stroke-width="1.6" />
<line x1="92.5" y1="1729.0" x2="101.5" y2="1729.0" stroke="#111" stroke-width="1.8" />
<line x1="98.0" y1="1663.6012334420002" x2="101.5" y2="1663.6012334420002" stroke="#111" stroke-width="1.6" />
<line x1="98.0" y1="1625.3454074121532" x2="101.5" y2="1625.3454074121532" stroke="#111" stroke-width="1.6" />
<line x1="98.0" y1="1598.2024668840002" x2="101.5" y2="1598.2024668840002" stroke="#111" stroke-width="1.6" />
<line x1="98.0" y1="1577.1487665579998" x2="101.5" y2="1577.1487665579998" stroke="#111" stroke-width="1.6" />
<line x1="98.0" y1="1559.9466408541534" x2="101.5" y2="1559.9466408541534" stroke="#111" stroke-width="1.6" />
<line x1="98.0" y1="1545.4024508069028" x2="101.5" y2="1545.4024508069028" stroke="#111" stroke-width="1.6" />
<line x1="98.0" y1="1532.8037003260004" x2="101.5" y2="1532.8037003260004" stroke="#111" stroke-width="1.6" />
<line x1="98.0" y1="1521.6908148243067" x2="101.5" y2="1521.6908148243067" stroke="#111" stroke-width="1.6" />
<line x1="92.5" y1="1511.75" x2="101.5" y2="1511.75" stroke="#111" stroke-width="1.8" />
<text x="86" y="1955.2" font-size="23" text-anchor="end">10<tspan dx="1.5" dy="-10.5" font-size="16.5">1</tspan></text>
<text x="86" y="1738.0" font-size="23" text-anchor="end">10<tspan dx="1.5" dy="-10.5" font-size="16.5">2</tspan></text>
<text x="86" y="1520.8" font-size="23" text-anchor="end">10<tspan dx="1.5" dy="-10.5" font-size="16.5">3</tspan></text>
<line x1="188.5" y1="1946.5" x2="188.5" y2="1955.5" stroke="#111" stroke-width="1.8" />
<line x1="476.7" y1="1946.5" x2="476.7" y2="1955.5" stroke="#111" stroke-width="1.8" />
<line x1="764.9" y1="1946.5" x2="764.9" y2="1955.5" stroke="#111" stroke-width="1.8" />
<line x1="101.74315524964062" y1="1946.5" x2="101.74315524964062" y2="1950.0" stroke="#111" stroke-width="1.6" />
<line x1="124.5631903605661" y1="1946.5" x2="124.5631903605661" y2="1950.0" stroke="#111" stroke-width="1.6" />
<line x1="143.85725513210883" y1="1946.5" x2="143.85725513210883" y2="1950.0" stroke="#111" stroke-width="1.6" />
<line x1="160.57053425107813" y1="1946.5" x2="160.57053425107813" y2="1950.0" stroke="#111" stroke-width="1.6" />
<line x1="175.31269122041343" y1="1946.5" x2="175.31269122041343" y2="1950.0" stroke="#111" stroke-width="1.6" />
<line x1="275.2568447503594" y1="1946.5" x2="275.2568447503594" y2="1950.0" stroke="#111" stroke-width="1.6" />
<line x1="326.0063456102067" y1="1946.5" x2="326.0063456102067" y2="1950.0" stroke="#111" stroke-width="1.6" />
<line x1="362.0136895007188" y1="1946.5" x2="362.0136895007188" y2="1950.0" stroke="#111" stroke-width="1.6" />
<line x1="389.94315524964065" y1="1946.5" x2="389.94315524964065" y2="1950.0" stroke="#111" stroke-width="1.6" />
<line x1="412.7631903605661" y1="1946.5" x2="412.7631903605661" y2="1950.0" stroke="#111" stroke-width="1.6" />
<line x1="432.0572551321088" y1="1946.5" x2="432.0572551321088" y2="1950.0" stroke="#111" stroke-width="1.6" />
<line x1="448.7705342510781" y1="1946.5" x2="448.7705342510781" y2="1950.0" stroke="#111" stroke-width="1.6" />
<line x1="463.51269122041344" y1="1946.5" x2="463.51269122041344" y2="1950.0" stroke="#111" stroke-width="1.6" />
<line x1="563.4568447503593" y1="1946.5" x2="563.4568447503593" y2="1950.0" stroke="#111" stroke-width="1.6" />
<line x1="614.2063456102067" y1="1946.5" x2="614.2063456102067" y2="1950.0" stroke="#111" stroke-width="1.6" />
<line x1="650.2136895007188" y1="1946.5" x2="650.2136895007188" y2="1950.0" stroke="#111" stroke-width="1.6" />
<line x1="678.1431552496406" y1="1946.5" x2="678.1431552496406" y2="1950.0" stroke="#111" stroke-width="1.6" />
<line x1="700.963190360566" y1="1946.5" x2="700.963190360566" y2="1950.0" stroke="#111" stroke-width="1.6" />
<line x1="720.2572551321089" y1="1946.5" x2="720.2572551321089" y2="1950.0" stroke="#111" stroke-width="1.6" />
<line x1="736.9705342510781" y1="1946.5" x2="736.9705342510781" y2="1950.0" stroke="#111" stroke-width="1.6" />
<line x1="751.7126912204134" y1="1946.5" x2="751.7126912204134" y2="1950.0" stroke="#111" stroke-width="1.6" />
<text x="189.2" y="1985" font-size="23" text-anchor="middle">10<tspan dx="1.5" dy="-10" font-size="16.5">−1</tspan></text>
<text x="477.4" y="1985" font-size="23" text-anchor="middle">10<tspan dx="1.5" dy="-10" font-size="16.5">0</tspan></text>
<text x="765.6" y="1985" font-size="23" text-anchor="middle">10<tspan dx="1.5" dy="-10" font-size="16.5">1</tspan></text>
<text x="432.7" y="2026" font-size="27.1" fill="#000" text-anchor="middle" >Stress frequency (Hz)</text>
<text transform="translate(30,1729) rotate(-90)" font-size="26.9" fill="#000" text-anchor="middle">Modulus (Pa)</text>
<line x1="188.3" y1="1723.1" x2="678" y2="1652.2" stroke="#111" stroke-width="1.7" />
<line x1="188.3" y1="1729.4" x2="678" y2="1675.3" stroke="#f00" stroke-width="1.7" />
<line x1="188.3" y1="1817.1" x2="678" y2="1698.6" stroke="#00f" stroke-width="1.7" />
<rect x="184.0" y="1718.6" width="9" height="9" fill="#000"/>
<rect x="321.5" y="1705.6" width="9" height="9" fill="#000"/>
<rect x="444.3" y="1672.2" width="9" height="9" fill="#000"/>
<rect x="673.6" y="1647.9" width="9" height="9" fill="#000"/>
<circle cx="188.5" cy="1726.6" r="5" fill="#f00"/>
<circle cx="326.0" cy="1732.6" r="5" fill="#f00"/>
<circle cx="448.8" cy="1689.0" r="5" fill="#f00"/>
<circle cx="678.1" cy="1676.9" r="5" fill="#f00"/>
<path d="M188.5,1875.7 L195.0,1886.7 L182.0,1886.7 Z" fill="#00f"/>
<path d="M326.0,1752.2 L332.5,1763.2 L319.5,1763.2 Z" fill="#00f"/>
<path d="M448.8,1744.5 L455.3,1755.5 L442.3,1755.5 Z" fill="#00f"/>
<path d="M678.1,1693.2 L684.6,1704.2 L671.6,1704.2 Z" fill="#00f"/>
<rect x="631" y="1516" width="125" height="99.7" fill="#fff" stroke="#888" stroke-width="1"/>
<rect x="642.0" y="1520.5" width="9" height="9" fill="#000"/>
<circle cx="646.7" cy="1540.1" r="5" fill="#f00"/>
<path d="M646.7,1550.5 L653.2,1561.5 L640.2,1561.5 Z" fill="#00f"/>
<text x="662" y="1528.5" font-size="11" fill="#000" text-anchor="start" >G</text>
<text x="662" y="1544" font-size="11" fill="#000" text-anchor="start" >G'</text>
<text x="662" y="1560.5" font-size="11" fill="#000" text-anchor="start" >G''</text>
<line x1="633.2" y1="1574.4" x2="662.2" y2="1574.4" stroke="#111" stroke-width="2" />
<text x="665.3" y="1578.0" font-size="10.5" fill="#000" text-anchor="start" letter-spacing="1.1">Linear fit of G</text>
<line x1="633.2" y1="1590.2" x2="662.2" y2="1590.2" stroke="#f00" stroke-width="2" />
<text x="665.3" y="1593.8" font-size="10.5" fill="#000" text-anchor="start" letter-spacing="1.1">Linear fit of G'</text>
<line x1="633.2" y1="1606.5" x2="662.2" y2="1606.5" stroke="#44f" stroke-width="2" />
<text x="665.3" y="1610.1" font-size="10.5" fill="#000" text-anchor="start" letter-spacing="1.1">Linear fit of G''</text>
</svg></body></html>
